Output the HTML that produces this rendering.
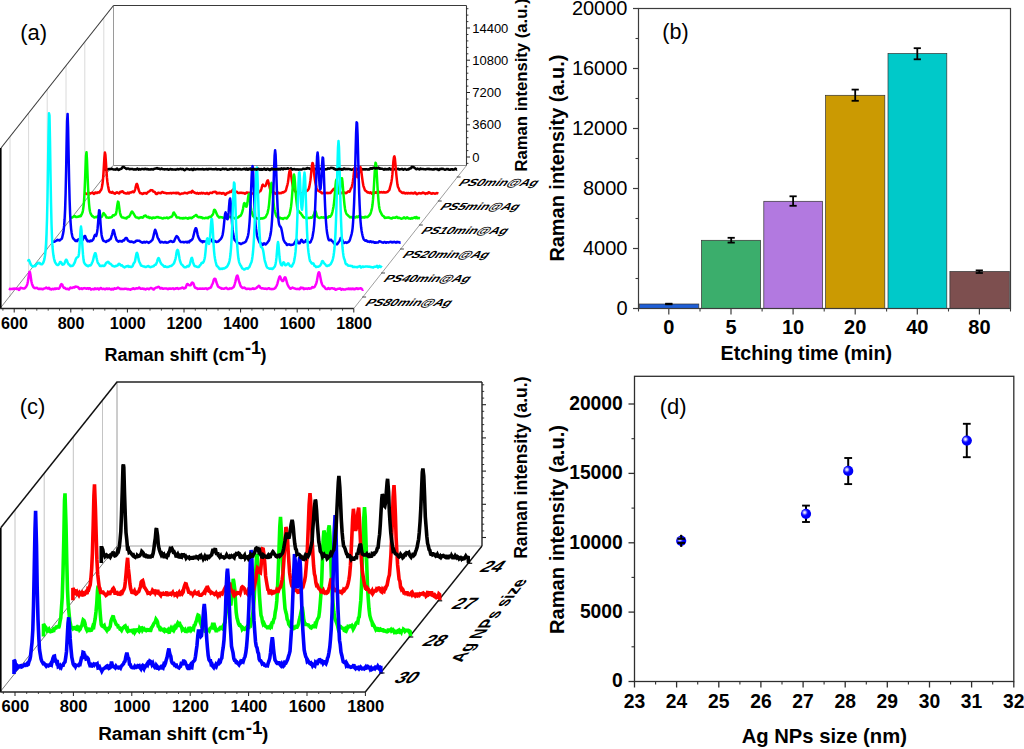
<!DOCTYPE html>
<html><head><meta charset="utf-8"><title>figure</title>
<style>
html,body{margin:0;padding:0;background:#fff;}
body{width:1024px;height:749px;overflow:hidden;font-family:"Liberation Sans",sans-serif;}
svg{display:block;}
svg text{font-family:"Liberation Sans",sans-serif;fill:#000;}
</style></head><body>
<svg width="1024" height="749" viewBox="0 0 1024 749">
<defs><radialGradient id="ball" cx="0.37" cy="0.37" r="0.62"><stop offset="0" stop-color="#ffffff"/><stop offset="0.2" stop-color="#b4b4ff"/><stop offset="0.42" stop-color="#2020ff"/><stop offset="0.6" stop-color="#0000ff"/><stop offset="1" stop-color="#0000f4"/></radialGradient></defs>
<rect width="1024" height="749" fill="#fff"/>
<g id="pa">
<line x1="10" y1="136.6" x2="10" y2="297.1" stroke="#dadada" stroke-width="1" />
<line x1="28.6" y1="113" x2="28.6" y2="273.4" stroke="#dadada" stroke-width="1" />
<line x1="47.2" y1="89.5" x2="47.2" y2="249.8" stroke="#dadada" stroke-width="1" />
<line x1="66" y1="65.7" x2="66" y2="225.9" stroke="#dadada" stroke-width="1" />
<line x1="84.8" y1="41.9" x2="84.8" y2="202" stroke="#dadada" stroke-width="1" />
<line x1="103.8" y1="17.8" x2="103.8" y2="177.8" stroke="#dadada" stroke-width="1" />
<line x1="113.5" y1="5.5" x2="113.5" y2="165.5" stroke="#9a9a9a" stroke-width="1" />
<line x1="113.5" y1="165.5" x2="466.5" y2="165.5" stroke="#8a8a8a" stroke-width="1" />
<line x1="0" y1="308.5" x2="113" y2="165.5" stroke="#6a6a6a" stroke-width="0.8" />
<line x1="353.8" y1="308.5" x2="466.5" y2="165.5" stroke="#858585" stroke-width="0.8" />
<line x1="113.5" y1="5.5" x2="466.5" y2="5.5" stroke="#3a3a3a" stroke-width="1.1" />
<line x1="1" y1="148" x2="113.5" y2="5.5" stroke="#3a3a3a" stroke-width="1.1" />
<line x1="466.5" y1="5.5" x2="466.5" y2="165.5" stroke="#3a3a3a" stroke-width="1.1" />
<line x1="466.5" y1="157" x2="470" y2="157" stroke="#222" stroke-width="1" />
<line x1="466.5" y1="124.8" x2="470" y2="124.8" stroke="#222" stroke-width="1" />
<line x1="466.5" y1="92.5" x2="470" y2="92.5" stroke="#222" stroke-width="1" />
<line x1="466.5" y1="60.2" x2="470" y2="60.2" stroke="#222" stroke-width="1" />
<line x1="466.5" y1="28" x2="470" y2="28" stroke="#222" stroke-width="1" />
<line x1="466.5" y1="163.4" x2="468.4" y2="163.4" stroke="#222" stroke-width="0.9" />
<line x1="466.5" y1="150.6" x2="468.4" y2="150.6" stroke="#222" stroke-width="0.9" />
<line x1="466.5" y1="144.1" x2="468.4" y2="144.1" stroke="#222" stroke-width="0.9" />
<line x1="466.5" y1="137.7" x2="468.4" y2="137.7" stroke="#222" stroke-width="0.9" />
<line x1="466.5" y1="131.2" x2="468.4" y2="131.2" stroke="#222" stroke-width="0.9" />
<line x1="466.5" y1="118.3" x2="468.4" y2="118.3" stroke="#222" stroke-width="0.9" />
<line x1="466.5" y1="111.9" x2="468.4" y2="111.9" stroke="#222" stroke-width="0.9" />
<line x1="466.5" y1="105.4" x2="468.4" y2="105.4" stroke="#222" stroke-width="0.9" />
<line x1="466.5" y1="99" x2="468.4" y2="99" stroke="#222" stroke-width="0.9" />
<line x1="466.5" y1="86.1" x2="468.4" y2="86.1" stroke="#222" stroke-width="0.9" />
<line x1="466.5" y1="79.6" x2="468.4" y2="79.6" stroke="#222" stroke-width="0.9" />
<line x1="466.5" y1="73.2" x2="468.4" y2="73.2" stroke="#222" stroke-width="0.9" />
<line x1="466.5" y1="66.7" x2="468.4" y2="66.7" stroke="#222" stroke-width="0.9" />
<line x1="466.5" y1="53.8" x2="468.4" y2="53.8" stroke="#222" stroke-width="0.9" />
<line x1="466.5" y1="47.4" x2="468.4" y2="47.4" stroke="#222" stroke-width="0.9" />
<line x1="466.5" y1="40.9" x2="468.4" y2="40.9" stroke="#222" stroke-width="0.9" />
<line x1="466.5" y1="34.5" x2="468.4" y2="34.5" stroke="#222" stroke-width="0.9" />
<line x1="466.5" y1="21.6" x2="468.4" y2="21.6" stroke="#222" stroke-width="0.9" />
<line x1="466.5" y1="15.1" x2="468.4" y2="15.1" stroke="#222" stroke-width="0.9" />
<line x1="466.5" y1="8.7" x2="468.4" y2="8.7" stroke="#222" stroke-width="0.9" />
<text x="472.2" y="161.7" font-size="13" font-weight="normal" text-anchor="start" >0</text>
<text x="472.2" y="129.4" font-size="13" font-weight="normal" text-anchor="start" >3600</text>
<text x="472.2" y="97.2" font-size="13" font-weight="normal" text-anchor="start" >7200</text>
<text x="472.2" y="65" font-size="13" font-weight="normal" text-anchor="start" >10800</text>
<text x="472.2" y="32.7" font-size="13" font-weight="normal" text-anchor="start" >14400</text>
<path d="M103 169.2L103.5 169.2L104 169.3L104.5 169.3L105 169.4L105.5 169.7L106 169.8L106.5 169.6L107 169.5L107.5 169.4L108 169.3L108.5 169.1L109 168.9L109.5 169.1L110 169.2L110.5 169.1L111 169L111.5 168.7L112 168.8L112.5 169.1L113 169.3L113.5 169.4L114 169.4L114.5 169.4L115 169.5L115.5 169.7L116 169.5L116.5 168.8L117 168.5L117.5 168.9L118 169.6L118.5 169.9L119 169.8L119.5 169.6L120 169.2L120.5 169L121 168.8L121.5 168.7L122 168.1L122.5 167.2L123 167L123.5 167L124 167L124.5 167.6L125 167.9L125.5 168.1L126 168.7L126.5 169L127 168.8L127.5 168.4L128 168.4L128.5 168.6L129 168.8L129.5 169.3L130 169.2L130.5 168.9L131 169L131.5 169.1L132 169L132.5 169L133 169.2L133.5 169.6L134 169.5L134.5 169.3L135 169.3L135.5 169.6L136 169.5L136.5 169L137 168.7L137.5 168.6L138 169.2L138.5 169.7L139 169.3L139.5 169.1L140 169.4L140.5 169.6L141 169.3L141.5 169L142 169L142.5 169.1L143 169L143.5 169.2L144 169.4L144.5 169.2L145 168.8L145.5 168.7L146 169.1L146.5 169.3L147 169L147.5 168.9L148 169.4L148.5 169.4L149 169.2L149.5 169.5L150 169.5L150.5 169.3L151 169.4L151.5 169.3L152 169.1L152.5 169.3L153 169.5L153.5 169.4L154 168.9L154.5 168.7L155 168.7L155.5 168.6L156 168.6L156.5 168.4L157 168.1L157.5 168.5L158 168.8L158.5 168.6L159 168.6L159.5 168.9L160 169.2L160.5 169.3L161 169L161.5 168.6L162 168.7L162.5 169.1L163 169.2L163.5 169.2L164 169.3L164.5 169.4L165 169.3L165.5 169.3L166 169.2L166.5 169.3L167 169.3L167.5 169.1L168 169.3L168.5 169.8L169 169.6L169.5 169.3L170 169.1L170.5 168.9L171 169.1L171.5 169.4L172 169.4L172.5 169.3L173 169.6L173.5 169.5L174 169.4L174.5 169.4L175 169.5L175.5 169.7L176 169.6L176.5 169.5L177 169.2L177.5 168.9L178 169.1L178.5 169.4L179 169.2L179.5 169.2L180 169L180.5 168.7L181 168.9L181.5 169.2L182 169.2L182.5 169.1L183 169L183.5 169.3L184 170L184.5 170.3L185 169.9L185.5 169.6L186 169.2L186.5 168.8L187 168.8L187.5 169.1L188 169.2L188.5 169.2L189 169.4L189.5 169.7L190 169.5L190.5 169.4L191 169.3L191.5 169L192 169.2L192.5 169.9L193 169.9L193.5 169.2L194 168.8L194.5 169.1L195 169.5L195.5 169.5L196 169.2L196.5 169.2L197 169.2L197.5 168.9L198 168.9L198.5 169.3L199 169.3L199.5 169.2L200 169.2L200.5 169.2L201 169.3L201.5 169.3L202 169.1L202.5 168.9L203 169.1L203.5 169.4L204 169.5L204.5 169.4L205 169.2L205.5 169.2L206 169.2L206.5 169L207 169.1L207.5 169.4L208 169.4L208.5 169L209 168.9L209.5 169L210 169L210.5 169L211 168.9L211.5 169.1L212 169.2L212.5 169.2L213 169.3L213.5 169.2L214 169.2L214.5 169.3L215 169.2L215.5 168.9L216 168.7L216.5 169.1L217 169.5L217.5 169.4L218 169.2L218.5 169.2L219 169.3L219.5 169.3L220 169.6L220.5 169.7L221 169.4L221.5 169.4L222 169.2L222.5 168.8L223 168.7L223.5 169L224 169.1L224.5 169.2L225 169.1L225.5 168.9L226 168.8L226.5 169L227 169.4L227.5 169.8L228 169.7L228.5 169.5L229 169.6L229.5 169.4L230 168.9L230.5 169L231 169.1L231.5 169.1L232 168.9L232.5 169.1L233 169.5L233.5 169.7L234 169.5L234.5 169.1L235 168.7L235.5 168.9L236 169L236.5 168.8L237 168.9L237.5 169.5L238 169.5L238.5 168.9L239 169.1L239.5 169.2L240 169.1L240.5 169.4L241 169.6L241.5 169.5L242 169.3L242.5 169.3L243 169.2L243.5 169L244 168.9L244.5 168.7L245 169.2L245.5 169.5L246 169.1L246.5 168.8L247 169L247.5 169.4L248 169.5L248.5 169.2L249 169.1L249.5 169L250 168.9L250.5 168.8L251 169.1L251.5 169.6L252 169.8L252.5 169.3L253 168.8L253.5 169L254 169.3L254.5 169.2L255 169.1L255.5 169.3L256 169.6L256.5 169.7L257 169.3L257.5 169L258 169.2L258.5 169.1L259 169L259.5 169.3L260 169.5L260.5 169.3L261 169.1L261.5 169.4L262 169.7L262.5 169.5L263 169.2L263.5 169.1L264 168.9L264.5 168.8L265 169.1L265.5 169.5L266 169.7L266.5 169.3L267 169L267.5 169L268 169.1L268.5 169.2L269 169.4L269.5 169.8L270 170L270.5 169.7L271 169.2L271.5 168.9L272 168.8L272.5 168.9L273 169.3L273.5 169.3L274 169.3L274.5 169.3L275 169.1L275.5 169.3L276 169.4L276.5 169.2L277 169.2L277.5 169.2L278 169L278.5 169.2L279 169.3L279.5 168.9L280 168.9L280.5 169.2L281 168.8L281.5 168.6L282 168.8L282.5 169L283 169.2L283.5 168.9L284 168.5L284.5 168.7L285 168.9L285.5 168.8L286 168.7L286.5 168.8L287 168.7L287.5 168.3L288 168.3L288.5 168.6L289 168.8L289.5 169.1L290 169.1L290.5 168.6L291 168.3L291.5 168.9L292 169.7L292.5 169.6L293 169.2L293.5 169.2L294 169.1L294.5 168.9L295 169.4L295.5 169.6L296 169.5L296.5 169.4L297 169.3L297.5 169.4L298 169.5L298.5 169.7L299 169.6L299.5 169.4L300 169.5L300.5 169.4L301 169.5L301.5 169.6L302 169.4L302.5 169.2L303 168.8L303.5 168.7L304 168.8L304.5 169L305 168.9L305.5 168.8L306 168.8L306.5 168.7L307 168.2L307.5 168L308 168.5L308.5 168.5L309 168.2L309.5 168.6L310 168.9L310.5 169.2L311 169.4L311.5 169.3L312 169.4L312.5 169.5L313 169.1L313.5 169.3L314 169.8L314.5 169.2L315 168.8L315.5 169.2L316 169.1L316.5 169.1L317 169.4L317.5 169L318 168.4L318.5 168.8L319 169.2L319.5 169.2L320 169L320.5 168.7L321 168.8L321.5 169.2L322 169.4L322.5 169.5L323 169.4L323.5 169.3L324 169.2L324.5 169.3L325 169.4L325.5 169.3L326 169.2L326.5 169.3L327 169.1L327.5 168.6L328 168.3L328.5 168.5L329 168.8L329.5 168.6L330 168.4L330.5 168.1L331 167.8L331.5 167.9L332 168.1L332.5 168L333 167.9L333.5 168.3L334 168.8L334.5 169L335 169.1L335.5 169.3L336 169.4L336.5 169.4L337 169.6L337.5 169.6L338 169.4L338.5 169.1L339 168.8L339.5 168.8L340 169.3L340.5 169.2L341 169.1L341.5 169.4L342 169.4L342.5 169.3L343 169.2L343.5 168.9L344 168.5L344.5 168.6L345 169.1L345.5 169.2L346 169L346.5 169.1L347 169.2L347.5 169.1L348 169.1L348.5 169L349 169.1L349.5 169.2L350 169.3L350.5 169.3L351 169.6L351.5 169.8L352 169.5L352.5 169.4L353 169.5L353.5 169.1L354 168.8L354.5 169L355 169.1L355.5 169.1L356 169L356.5 169.4L357 169.8L357.5 169.4L358 169L358.5 169.2L359 169.4L359.5 169.4L360 169.3L360.5 169.1L361 169.2L361.5 169.2L362 169.1L362.5 169.4L363 169.5L363.5 169.3L364 169.2L364.5 169.4L365 169.6L365.5 169.4L366 169.2L366.5 169.2L367 169.3L367.5 169.5L368 169.5L368.5 169.3L369 169.4L369.5 169.4L370 168.9L370.5 168.4L371 168.3L371.5 168.4L372 168.5L372.5 168.3L373 168L373.5 167.9L374 167.9L374.5 168L375 168.3L375.5 168.5L376 168.3L376.5 168.1L377 168.3L377.5 168.3L378 168L378.5 167.8L379 168.1L379.5 168.6L380 168.7L380.5 168.7L381 168.8L381.5 168.7L382 168.7L382.5 168.9L383 169.2L383.5 169.4L384 169.7L384.5 169.4L385 168.9L385.5 169.2L386 169.6L386.5 169.4L387 169.1L387.5 169.2L388 169.5L388.5 169.3L389 168.6L389.5 168.3L390 169L390.5 169.6L391 169.6L391.5 169.5L392 169.2L392.5 168.8L393 168.9L393.5 169.5L394 169.4L394.5 169.2L395 169.3L395.5 169.3L396 169.1L396.5 168.8L397 169L397.5 169.1L398 168.7L398.5 168.9L399 169.5L399.5 169.6L400 169.2L400.5 169.2L401 169.3L401.5 169L402 168.8L402.5 169.1L403 169.6L403.5 169.7L404 169.3L404.5 169L405 169L405.5 169.2L406 169.5L406.5 169.8L407 169.6L407.5 169.3L408 169.5L408.5 169.5L409 169L409.5 168.5L410 168.4L410.5 168.6L411 168.3L411.5 167.2L412 166.7L412.5 167.1L413 167.2L413.5 167.1L414 167.4L414.5 167.9L415 168.2L415.5 168.7L416 169.2L416.5 169.2L417 168.8L417.5 168.6L418 168.8L418.5 169.1L419 169.3L419.5 169.4L420 169L420.5 168.6L421 168.9L421.5 169.1L422 169L422.5 169.1L423 169.1L423.5 169.1L424 169.3L424.5 169.2L425 169.2L425.5 169.4L426 169.3L426.5 169.1L427 169L427.5 168.9L428 168.8L428.5 168.9L429 169.2L429.5 169.1L430 169.1L430.5 169.3L431 169.2L431.5 169.2L432 169.4L432.5 169.5L433 169.3L433.5 169.4L434 169.4L434.5 169.1L435 168.9L435.5 168.9L436 169L436.5 169.2L437 169.2L437.5 169.1L438 169.5L438.5 170L439 169.9L439.5 169.2L440 169L440.5 169.2L441 168.9L441.5 168.7L442 169.1L442.5 169L443 168.7L443.5 169L444 169.3L444.5 169.6L445 169.8L445.5 169.6L446 169.3L446.5 169.1L447 169.2L447.5 169.2L448 169L448.5 169.4L449 169.7L449.5 169.8L450 169.8L450.5 169.7L451 169.3L451.5 169.2L452 169.2L452.5 169.3L453 169.7L453.5 169.6L454 169.6L454.5 169.3L455 168.8L455.5 168.5L456 169.1L456.5 169.5L457 169.3" fill="none" stroke="#000000" stroke-width="2.5" stroke-linejoin="round" stroke-linecap="butt"/>
<path d="M84.4 192.8L84.9 193L85.4 193.2L85.9 193.6L86.4 193.9L86.9 193.8L87.4 193.7L87.9 193.5L88.4 193.2L88.9 193L89.4 193.1L89.9 193.4L90.4 193.5L90.9 193.2L91.4 193.1L91.9 192.9L92.4 192.7L92.9 192.8L93.4 193.4L93.9 194L94.4 193.7L94.9 192.8L95.4 192.4L95.9 192.5L96.4 193.1L96.9 193.1L97.4 192.5L97.9 192.2L98.4 192.4L98.9 192.5L99.4 192.5L99.9 191.6L100.4 190.7L100.9 190.3L101.4 189.2L101.9 187.2L102.4 184.6L102.9 180.5L103.4 174.1L103.9 165.7L104.4 157.3L104.9 152.6L105.4 154.8L105.9 161.9L106.4 170.1L106.9 177.2L107.4 182L107.9 185.3L108.4 188.1L108.9 190.4L109.4 191.8L109.9 192.2L110.4 192.1L110.9 192.3L111.4 192.7L111.9 192.4L112.4 191.9L112.9 192.5L113.4 193.1L113.9 193L114.4 193.5L114.9 193.8L115.4 193.3L115.9 193L116.4 192.5L116.9 192.2L117.4 192.7L117.9 192.9L118.4 192.9L118.9 193.5L119.4 193.3L119.9 192.2L120.4 191.8L120.9 192.1L121.4 192L121.9 191.4L122.4 191.2L122.9 191.5L123.4 192.3L123.9 192.9L124.4 193.1L124.9 193.1L125.4 193.3L125.9 193.4L126.4 193.5L126.9 193.6L127.4 192.9L127.9 192.6L128.4 193.3L128.9 193.5L129.4 193L129.9 192.6L130.4 192.5L130.9 192.2L131.4 192.4L131.9 192.2L132.4 191.6L132.9 191.7L133.4 192.2L133.9 192.2L134.4 191.4L134.9 190.1L135.4 188.3L135.9 186L136.4 184.3L136.9 183.9L137.4 184.8L137.9 186.9L138.4 189L138.9 190.5L139.4 191.7L139.9 192.8L140.4 193.3L140.9 193.3L141.4 193.2L141.9 193.5L142.4 194.1L142.9 193.9L143.4 193.3L143.9 193L144.4 193.2L144.9 193.3L145.4 193.1L145.9 193.2L146.4 193.7L146.9 193.4L147.4 192.6L147.9 192.2L148.4 191.8L148.9 191.4L149.4 191.4L149.9 190.9L150.4 190.3L150.9 190.1L151.4 190.3L151.9 190.2L152.4 190.2L152.9 191L153.4 191.6L153.9 191.7L154.4 191.8L154.9 192.1L155.4 193L155.9 193.8L156.4 194L156.9 194L157.4 193.6L157.9 192.9L158.4 192.7L158.9 192.9L159.4 192.9L159.9 193L160.4 193.3L160.9 193.2L161.4 192.6L161.9 192.2L162.4 191.9L162.9 192.1L163.4 192.7L163.9 192.7L164.4 192.7L164.9 192.9L165.4 193L165.9 193.1L166.4 193.3L166.9 193.4L167.4 193.2L167.9 193.2L168.4 193.3L168.9 193.3L169.4 193.3L169.9 193.2L170.4 193L170.9 193.2L171.4 193.4L171.9 193L172.4 192.9L172.9 192.9L173.4 193.1L173.9 193.1L174.4 192.9L174.9 193.1L175.4 193.2L175.9 192.9L176.4 192.8L176.9 193.4L177.4 193.2L177.9 192.8L178.4 192.9L178.9 193.2L179.4 194L179.9 194.2L180.4 193.9L180.9 193.9L181.4 193.7L181.9 193.5L182.4 193.6L182.9 193.5L183.4 193.3L183.9 193.1L184.4 192.8L184.9 192.8L185.4 192.9L185.9 193.1L186.4 193.2L186.9 193.2L187.4 193.4L187.9 192.9L188.4 192.5L188.9 192.6L189.4 192.6L189.9 192.2L190.4 191.9L190.9 192.3L191.4 192.6L191.9 191.5L192.4 190.7L192.9 191.4L193.4 192.2L193.9 192.2L194.4 192.4L194.9 193L195.4 193L195.9 193L196.4 193.4L196.9 193.3L197.4 192.9L197.9 193.3L198.4 193.7L198.9 193.3L199.4 193.1L199.9 193.3L200.4 193.5L200.9 193.2L201.4 192.8L201.9 193.2L202.4 193.4L202.9 193L203.4 193L203.9 193.2L204.4 193.4L204.9 193.4L205.4 193.6L205.9 193.7L206.4 193.1L206.9 192.9L207.4 193L207.9 193.6L208.4 194.1L208.9 194L209.4 193.3L209.9 192.8L210.4 192.8L210.9 192.7L211.4 192.9L211.9 193.1L212.4 192.8L212.9 192.2L213.4 192L213.9 192.1L214.4 191.9L214.9 191.8L215.4 191.7L215.9 192.1L216.4 193L216.9 193.6L217.4 193.4L217.9 192.7L218.4 193L218.9 193.3L219.4 192.8L219.9 192.9L220.4 193.2L220.9 193L221.4 193.3L221.9 193.8L222.4 193.5L222.9 193L223.4 193L223.9 193.3L224.4 193.7L224.9 194.4L225.4 194.8L225.9 194.3L226.4 193.3L226.9 193.1L227.4 193.3L227.9 192.8L228.4 192.4L228.9 192.6L229.4 192.4L229.9 191.6L230.4 191.8L230.9 191.9L231.4 191.2L231.9 190.9L232.4 190.4L232.9 189.6L233.4 189.4L233.9 189.9L234.4 190.6L234.9 191.4L235.4 191.8L235.9 191.9L236.4 191.8L236.9 191.8L237.4 192.4L237.9 192.9L238.4 193.1L238.9 193L239.4 192.9L239.9 192.7L240.4 192.7L240.9 192.9L241.4 192.8L241.9 192.8L242.4 192.9L242.9 192.9L243.4 193L243.9 193.1L244.4 193.4L244.9 193.7L245.4 193.6L245.9 193.1L246.4 192.6L246.9 192.4L247.4 192.7L247.9 192.8L248.4 192.7L248.9 192.9L249.4 193.2L249.9 192.8L250.4 192.7L250.9 193.2L251.4 193.7L251.9 193.4L252.4 193.4L252.9 193.5L253.4 193.2L253.9 192.9L254.4 192.9L254.9 193.2L255.4 193.2L255.9 192.9L256.4 192.8L256.9 193L257.4 192.6L257.9 192.1L258.4 192.4L258.9 192.4L259.4 191.5L259.9 191.2L260.4 191.1L260.9 190.2L261.4 188.9L261.9 187L262.4 185.2L262.9 184.7L263.4 185.4L263.9 185.9L264.4 185.9L264.9 186.2L265.4 186L265.9 184.9L266.4 183.5L266.9 182L267.4 180.6L267.9 180.4L268.4 182.1L268.9 184.1L269.4 186.2L269.9 188.4L270.4 190.1L270.9 191.2L271.4 191.8L271.9 191.8L272.4 191.8L272.9 191.9L273.4 191.9L273.9 192.4L274.4 193.2L274.9 193.6L275.4 193.7L275.9 193.5L276.4 193.1L276.9 192.7L277.4 192.4L277.9 192.4L278.4 192.8L278.9 193.3L279.4 193.3L279.9 192.9L280.4 192.9L280.9 193.2L281.4 193.1L281.9 192.6L282.4 192.3L282.9 192.3L283.4 192.4L283.9 192.1L284.4 191.6L284.9 191.4L285.4 191.3L285.9 190.3L286.4 188.5L286.9 186.6L287.4 184.8L287.9 182.7L288.4 179.1L288.9 174.6L289.4 171.6L289.9 170.4L290.4 171L290.9 173.6L291.4 177.4L291.9 180.8L292.4 183.7L292.9 186.5L293.4 188.4L293.9 189.4L294.4 190.4L294.9 191.1L295.4 191.6L295.9 192.1L296.4 192.4L296.9 192.3L297.4 192.2L297.9 192.6L298.4 192.7L298.9 192.6L299.4 192.8L299.9 193L300.4 193.2L300.9 193.4L301.4 193.3L301.9 193.2L302.4 193.4L302.9 193.6L303.4 193.1L303.9 192.8L304.4 193L304.9 192.9L305.4 192.5L305.9 191.8L306.4 190.9L306.9 190.7L307.4 190.7L307.9 190.2L308.4 189.4L308.9 188.4L309.4 186.4L309.9 183.6L310.4 180.4L310.9 176L311.4 170.8L311.9 166L312.4 163.1L312.9 163.4L313.4 166.4L313.9 171L314.4 175.8L314.9 179.8L315.4 182.7L315.9 185L316.4 187.6L316.9 189.5L317.4 190L317.9 190.3L318.4 190.9L318.9 191L319.4 191L319.9 191.6L320.4 191.9L320.9 192L321.4 192.8L321.9 193.2L322.4 193.1L322.9 193.2L323.4 193L323.9 192.6L324.4 192.8L324.9 193.2L325.4 193.3L325.9 193.1L326.4 193.1L326.9 192.8L327.4 192.9L327.9 193.2L328.4 193.1L328.9 193L329.4 192.9L329.9 192.8L330.4 192.9L330.9 192.5L331.4 191.7L331.9 191.1L332.4 190.5L332.9 190L333.4 189.2L333.9 188.8L334.4 189.1L334.9 189.7L335.4 190.7L335.9 192.1L336.4 193L336.9 193.2L337.4 193.2L337.9 193L338.4 192.4L338.9 191.9L339.4 191.8L339.9 192.7L340.4 193.5L340.9 193.3L341.4 192.8L341.9 192.9L342.4 192.6L342.9 192.3L343.4 192.5L343.9 192.6L344.4 192.6L344.9 192.7L345.4 193.1L345.9 193.2L346.4 193L346.9 192.6L347.4 192.1L347.9 191.6L348.4 191.3L348.9 191.5L349.4 191.8L349.9 191L350.4 189.6L350.9 188.5L351.4 187.7L351.9 186.3L352.4 184L352.9 181.2L353.4 177.5L353.9 173L354.4 169.4L354.9 167.4L355.4 167.4L355.9 169.7L356.4 173.1L356.9 176L357.4 177.3L357.9 177.3L358.4 175.7L358.9 173L359.4 170.1L359.9 167.8L360.4 167.1L360.9 168.5L361.4 171.8L361.9 175.8L362.4 179.6L362.9 183.1L363.4 185.8L363.9 187.3L364.4 188.6L364.9 190.1L365.4 190.7L365.9 190.9L366.4 191.3L366.9 191.9L367.4 192.4L367.9 192.3L368.4 192.2L368.9 192.6L369.4 192.9L369.9 192.8L370.4 192.3L370.9 192.4L371.4 193.1L371.9 193.7L372.4 193.8L372.9 192.9L373.4 192.3L373.9 192.7L374.4 193.1L374.9 192.6L375.4 192.2L375.9 192.8L376.4 192.7L376.9 192L377.4 191.7L377.9 191.4L378.4 191.4L378.9 191.8L379.4 192.4L379.9 192.5L380.4 192.3L380.9 192.2L381.4 192.1L381.9 192.3L382.4 192.5L382.9 192.2L383.4 192.1L383.9 192.5L384.4 192.4L384.9 192.3L385.4 192.4L385.9 192.5L386.4 192.2L386.9 192.1L387.4 192.1L387.9 191.5L388.4 190.9L388.9 190.7L389.4 189.9L389.9 187.9L390.4 186L390.9 184.2L391.4 181.8L391.9 178.9L392.4 174.4L392.9 167.5L393.4 161.2L393.9 157.4L394.4 156.4L394.9 158.6L395.4 163.9L395.9 170.2L396.4 175.4L396.9 180.1L397.4 184.3L397.9 186.8L398.4 187.8L398.9 188.8L399.4 190.2L399.9 191.2L400.4 191.4L400.9 191.6L401.4 192.1L401.9 192.7L402.4 193L402.9 193L403.4 192.6L403.9 192.6L404.4 192.9L404.9 193.3L405.4 193.5L405.9 193.2L406.4 192.9L406.9 193.1L407.4 193.4L407.9 193.1L408.4 193L408.9 193.2L409.4 193.2L409.9 193.4L410.4 193.1L410.9 193.1L411.4 193.2L411.9 193L412.4 193.2L412.9 193.5L413.4 193.6L413.9 193.4L414.4 192.8L414.9 192.4L415.4 192.7L415.9 193.2L416.4 193.9L416.9 194.2L417.4 193.9L417.9 193.6L418.4 193.3L418.9 193L419.4 193.2L419.9 193.3L420.4 193.3L420.9 193.6L421.4 193.4L421.9 193.1L422.4 193L422.9 192.6L423.4 192.7L423.9 193.1L424.4 193L424.9 193.4L425.4 193.9L425.9 193.6L426.4 193.2L426.9 193.2L427.4 193.5L427.9 193.3L428.4 192.4L428.9 192.2L429.4 192.7L429.9 193L430.4 193.1L430.9 193.5L431.4 193.7L431.9 193.7L432.4 193.3L432.9 193.1L433.4 193.3L433.9 193.3L434.4 193.5L434.9 193.8L435.4 193.6L435.9 193.5L436.4 193.2L436.9 193.1L437.4 193.2L437.9 193.3L438.4 193.5" fill="none" stroke="#ff0000" stroke-width="2.5" stroke-linejoin="round" stroke-linecap="butt"/>
<path d="M71 218L71.5 217.7L72 217.5L72.5 217.3L73 216.9L73.5 216.7L74 216.4L74.5 216.1L75 216.2L75.5 216.7L76 217.1L76.5 217.1L77 216.9L77.5 216.8L78 216.7L78.5 216.7L79 216.5L79.5 216L80 216L80.5 216.3L81 215.8L81.5 214.6L82 213.6L82.5 212.5L83 210.2L83.5 206.6L84 201.6L84.5 193.1L85 181.4L85.5 168.1L86 156L86.5 152.2L87 160.2L87.5 173.7L88 186.4L88.5 196.3L89 203.5L89.5 208.6L90 211.5L90.5 213.2L91 214.3L91.5 215L92 215.9L92.5 216.3L93 216.2L93.5 216.9L94 217.5L94.5 217.5L95 217.3L95.5 217.1L96 217L96.5 217.2L97 217.1L97.5 216.7L98 215.9L98.5 215.9L99 216.6L99.5 216.9L100 217.1L100.5 217.3L101 217.2L101.5 217L102 216.6L102.5 215.4L103 213.9L103.5 213.1L104 213.5L104.5 214.3L105 214.7L105.5 215.4L106 216.7L106.5 217.5L107 217.5L107.5 217.5L108 217.7L108.5 217.7L109 217.7L109.5 217.6L110 217.6L110.5 217.5L111 217.2L111.5 217.3L112 216.9L112.5 215.9L113 215.2L113.5 215.4L114 215.5L114.5 215L115 214.6L115.5 214.6L116 213.7L116.5 211L117 207.4L117.5 203.9L118 201.6L118.5 202.3L119 205.6L119.5 209.6L120 212.7L120.5 214.7L121 216L121.5 216.8L122 217.3L122.5 217.5L123 217.5L123.5 217.7L124 217.9L124.5 218L125 218.2L125.5 217.9L126 218L126.5 218.4L127 217.8L127.5 217L128 216.9L128.5 217.1L129 216.7L129.5 216L130 215.1L130.5 214.1L131 213L131.5 211.9L132 211.5L132.5 211.9L133 212.7L133.5 213.4L134 214.3L134.5 215.2L135 216L135.5 216.8L136 217.3L136.5 217.4L137 217.4L137.5 217.4L138 217.8L138.5 218.2L139 218.3L139.5 217.9L140 217.6L140.5 217.6L141 217.3L141.5 217.2L142 217.5L142.5 217.7L143 217.6L143.5 216.8L144 216.1L144.5 216L145 215.7L145.5 215.5L146 216L146.5 216.5L147 216.9L147.5 217.3L148 217.2L148.5 216.9L149 217.5L149.5 218L150 217.8L150.5 217.6L151 217.7L151.5 218.1L152 218.5L152.5 218.2L153 217.5L153.5 217.4L154 217.8L154.5 217.9L155 217.7L155.5 217.7L156 217.3L156.5 217.1L157 217.3L157.5 217.1L158 217.1L158.5 217.5L159 217.4L159.5 217.6L160 217.8L160.5 217.7L161 217.8L161.5 218.1L162 218.3L162.5 218.4L163 218.4L163.5 218.1L164 217.8L164.5 217.9L165 218L165.5 218L166 217.9L166.5 217.7L167 217.5L167.5 217.9L168 218.4L168.5 218.2L169 217.8L169.5 217.5L170 217.3L170.5 217L171 216.8L171.5 216.9L172 216.4L172.5 215.6L173 214.3L173.5 212.7L174 212.6L174.5 213.8L175 214.5L175.5 215L176 215.9L176.5 217.1L177 217.6L177.5 217.5L178 217.5L178.5 217.6L179 217.5L179.5 217.8L180 218.2L180.5 218.1L181 218.3L181.5 218.2L182 218.1L182.5 218.5L183 218.4L183.5 218L184 217.9L184.5 218.3L185 218.1L185.5 217.8L186 217.9L186.5 218L187 218.3L187.5 218.6L188 218.7L188.5 218.5L189 217.8L189.5 217.7L190 218L190.5 217.7L191 217.9L191.5 218.3L192 217.9L192.5 217.3L193 217.2L193.5 217L194 216.4L194.5 215.9L195 215.8L195.5 215.5L196 214.9L196.5 215.1L197 216L197.5 216.6L198 216.8L198.5 217.2L199 217.3L199.5 217L200 217.1L200.5 217.5L201 217.4L201.5 217.2L202 217.7L202.5 218.3L203 217.9L203.5 218L204 218.3L204.5 218.3L205 218.1L205.5 217.8L206 217.8L206.5 218.1L207 217.7L207.5 217.8L208 218.2L208.5 217.6L209 217L209.5 216.9L210 216.7L210.5 216.9L211 216.9L211.5 216.2L212 215.4L212.5 214.9L213 214.2L213.5 212.3L214 210.2L214.5 209.7L215 210L215.5 211L216 212.4L216.5 213.4L217 214.5L217.5 215.7L218 216.3L218.5 216.7L219 217.4L219.5 217.5L220 217.1L220.5 217.1L221 217.3L221.5 217.2L222 217.2L222.5 217.7L223 217.9L223.5 217.8L224 218L224.5 218.1L225 217.9L225.5 217.5L226 217.6L226.5 217.6L227 216.9L227.5 216.3L228 216.6L228.5 217.1L229 216.8L229.5 216.7L230 217.2L230.5 217.3L231 217L231.5 217L232 217.3L232.5 217.4L233 217.5L233.5 217.6L234 217.8L234.5 218.1L235 218.4L235.5 218.3L236 218.1L236.5 218L237 217.8L237.5 217.5L238 217.4L238.5 217.3L239 216.7L239.5 216L240 216L240.5 215.8L241 215L241.5 214L242 212.8L242.5 211.2L243 208.9L243.5 205.9L244 203.5L244.5 203.1L245 204L245.5 205.3L246 206.5L246.5 206.7L247 205.2L247.5 202.3L248 198.5L248.5 195.1L249 193.9L249.5 195.8L250 200.1L250.5 204.9L251 208.8L251.5 211.1L252 212.6L252.5 214.3L253 216L253.5 216.5L254 216.8L254.5 217.5L255 217.9L255.5 218L256 218L256.5 218.1L257 218.3L257.5 218.5L258 218.5L258.5 219L259 219.3L259.5 218.6L260 218.2L260.5 218.7L261 218.6L261.5 218.3L262 218.6L262.5 218.6L263 218.2L263.5 218L264 218.2L264.5 217.7L265 217.4L265.5 217.3L266 216.3L266.5 215.2L267 214.4L267.5 213.1L268 210.9L268.5 208.5L269 204.8L269.5 199.4L270 193.7L270.5 188.7L271 184.5L271.5 182.9L272 185.2L272.5 190.6L273 196.7L273.5 202.4L274 207.1L274.5 210L275 211.8L275.5 213.4L276 215.1L276.5 216.4L277 216.8L277.5 217.4L278 217.7L278.5 218L279 218.2L279.5 217.8L280 217.6L280.5 218.1L281 218.4L281.5 218.3L282 218.3L282.5 218.7L283 219L283.5 218.6L284 218.2L284.5 218L285 218L285.5 218L286 218.1L286.5 218.5L287 218.3L287.5 217.6L288 216.8L288.5 216.1L289 215.5L289.5 214.1L290 212.1L290.5 209.9L291 206.9L291.5 202.3L292 196.7L292.5 190.2L293 182.9L293.5 176.8L294 174.5L294.5 176.8L295 182.9L295.5 190.3L296 196.3L296.5 201.3L297 205.7L297.5 208.8L298 210.3L298.5 210.9L299 211.4L299.5 212.1L300 212.9L300.5 213.1L301 213.5L301.5 214.4L302 215.1L302.5 215.8L303 216.6L303.5 217.3L304 217.5L304.5 217.4L305 217.5L305.5 217.9L306 218.3L306.5 218.3L307 218.2L307.5 218.2L308 217.9L308.5 217.8L309 218L309.5 218.1L310 217.9L310.5 217.3L311 217.5L311.5 217.8L312 217.5L312.5 217.2L313 216.4L313.5 215.3L314 214.2L314.5 212.6L315 211.2L315.5 211.2L316 212.5L316.5 214.4L317 216L317.5 216.9L318 217.3L318.5 217.6L319 217.8L319.5 218L320 217.8L320.5 217.5L321 217.4L321.5 217.3L322 217.4L322.5 217.5L323 217.3L323.5 217.6L324 217.7L324.5 217.4L325 217.4L325.5 217.4L326 217.5L326.5 217.5L327 217.5L327.5 217.7L328 217.5L328.5 216.7L329 216.3L329.5 216.6L330 216.8L330.5 216.3L331 215.6L331.5 214.8L332 213.5L332.5 211.6L333 209.3L333.5 206.7L334 203.1L334.5 198L335 191.6L335.5 185.5L336 181L336.5 179.5L337 181.3L337.5 185.2L338 189.3L338.5 192.4L339 193.4L339.5 192.6L340 190L340.5 185.8L341 181.3L341.5 178.2L342 178.2L342.5 182L343 188.1L343.5 194.3L344 199.9L344.5 204.8L345 208.7L345.5 211.2L346 212.6L346.5 213.9L347 214.7L347.5 214.9L348 215.4L348.5 216L349 216.3L349.5 216.9L350 217.4L350.5 217.2L351 217.1L351.5 217.1L352 217.4L352.5 217.9L353 217.8L353.5 217.2L354 217L354.5 217.4L355 217.6L355.5 217.5L356 217.1L356.5 216.4L357 216.6L357.5 217.3L358 217.2L358.5 216.4L359 216L359.5 215.7L360 215.9L360.5 216.6L361 217.4L361.5 217.7L362 217.6L362.5 217.4L363 217.2L363.5 217.2L364 217.7L364.5 217.6L365 216.8L365.5 216.7L366 217.2L366.5 217.1L367 217L367.5 217.2L368 216.6L368.5 216.1L369 215.8L369.5 215L370 214.5L370.5 213.6L371 212L371.5 210.2L372 208L372.5 204.8L373 199.7L373.5 193.1L374 185L374.5 175.7L375 167.4L375.5 162.8L376 163.5L376.5 169.1L377 177.7L377.5 186.7L378 194.5L378.5 200.8L379 205.7L379.5 208.8L380 210.8L380.5 212.1L381 212.8L381.5 213.9L382 214.9L382.5 215.7L383 215.8L383.5 216L384 216.8L384.5 217.6L385 218L385.5 217.7L386 217.4L386.5 217.8L387 217.8L387.5 217.4L388 217.5L388.5 217.7L389 217.6L389.5 217.7L390 218.2L390.5 218.2L391 218.3L391.5 218.6L392 218.5L392.5 217.9L393 217.6L393.5 217.7L394 217.8L394.5 217.8L395 217.6L395.5 217.7L396 217.3L396.5 216.8L397 217L397.5 217.6L398 218L398.5 217.9L399 217.7L399.5 217.9L400 218.2L400.5 218.4L401 218.6L401.5 218.8L402 218.6L402.5 218.2L403 218.2L403.5 217.8L404 217.2L404.5 217.5L405 218.1L405.5 218.4L406 218.3L406.5 217.9L407 217.3L407.5 217.4L408 218.2L408.5 218.4L409 218.3L409.5 218.6L410 218.6L410.5 218.7L411 218.3L411.5 218L412 218.4L412.5 218.4L413 218L413.5 217.8L414 217.6L414.5 217.3L415 217.9L415.5 218.1L416 217.2L416.5 217L417 217.8L417.5 218.3L418 218.2L418.5 217.9L419 217.9L419.5 218.2L420 218.3" fill="none" stroke="#00ff00" stroke-width="2.5" stroke-linejoin="round" stroke-linecap="butt"/>
<path d="M53.1 241.7L53.6 241.8L54.1 241.8L54.6 241.6L55.1 241.3L55.6 241.1L56.1 240.7L56.6 240.5L57.1 240.1L57.6 239.7L58.1 240.2L58.6 240.3L59.1 240.3L59.6 240.4L60.1 240L60.6 239.5L61.1 239.2L61.6 238.9L62.1 237.9L62.6 235.8L63.1 233.6L63.6 230.7L64.1 225.9L64.6 219.2L65.1 209.2L65.6 193.7L66.1 171.3L66.6 144.3L67.1 121L67.6 113.9L68.1 128.1L68.6 154.2L69.1 179.9L69.6 199.8L70.1 213.5L70.6 222.6L71.1 228.8L71.6 232.7L72.1 235.2L72.6 237.1L73.1 238.4L73.6 238.9L74.1 239.2L74.6 239.9L75.1 240.6L75.6 240.9L76.1 240.5L76.6 240.6L77.1 241.1L77.6 240.5L78.1 239.5L78.6 239.2L79.1 239.2L79.6 239.1L80.1 239.6L80.6 240.4L81.1 240.8L81.6 240.9L82.1 240.6L82.6 239.9L83.1 238.9L83.6 237.9L84.1 236.8L84.6 235.9L85.1 236L85.6 237.3L86.1 238.7L86.6 239.6L87.1 240.6L87.6 241.3L88.1 241.2L88.6 241L89.1 241.2L89.6 241.5L90.1 241L90.6 240.6L91.1 241L91.6 241.1L92.1 240.7L92.6 240.2L93.1 239.7L93.6 238.6L94.1 237L94.6 235.5L95.1 234.9L95.6 235.7L96.1 236L96.6 234.6L97.1 232.3L97.6 228.4L98.1 222.6L98.6 215.7L99.1 210.3L99.6 210.6L100.1 217L100.6 224.6L101.1 230.6L101.6 235L102.1 237.5L102.6 239L103.1 240.4L103.6 241L104.1 241L104.6 241.2L105.1 241.5L105.6 241.8L106.1 242L106.6 241.4L107.1 240.7L107.6 240.8L108.1 240.9L108.6 240.7L109.1 240.1L109.6 239.5L110.1 239.3L110.6 238.9L111.1 237.7L111.6 235.8L112.1 234.3L112.6 232.4L113.1 230.3L113.6 230L114.1 231.5L114.6 233.6L115.1 235.6L115.6 237.1L116.1 238.7L116.6 240L117.1 240.5L117.6 240.9L118.1 241.6L118.6 241.7L119.1 241.2L119.6 240.9L120.1 241.2L120.6 241.2L121.1 241.1L121.6 241.6L122.1 241.6L122.6 240.8L123.1 240.3L123.6 240.6L124.1 240.6L124.6 239.5L125.1 238.5L125.6 238.2L126.1 237.9L126.6 237.9L127.1 238.8L127.6 240.1L128.1 240.8L128.6 240.9L129.1 241.2L129.6 241.7L130.1 241.9L130.6 241.6L131.1 241.4L131.6 241.7L132.1 242L132.6 241.7L133.1 242L133.6 242.4L134.1 242.3L134.6 242.3L135.1 242L135.6 241L136.1 240.7L136.6 240.9L137.1 240.8L137.6 240.6L138.1 240.8L138.6 240.7L139.1 240.7L139.6 240.9L140.1 241.4L140.6 241.9L141.1 241.9L141.6 242.1L142.1 242.6L142.6 242.7L143.1 242.5L143.6 242.1L144.1 241.8L144.6 242.2L145.1 242.6L145.6 242.3L146.1 241.8L146.6 241.8L147.1 242.1L147.6 242.1L148.1 242.4L148.6 242.9L149.1 242.7L149.6 242.2L150.1 241.8L150.6 241.6L151.1 241.1L151.6 240.6L152.1 240.3L152.6 239.4L153.1 237.7L153.6 235.6L154.1 233.4L154.6 231.2L155.1 229.8L155.6 230.5L156.1 232.1L156.6 233.6L157.1 235.5L157.6 237.5L158.1 238.4L158.6 239.1L159.1 240.1L159.6 241.3L160.1 242.3L160.6 242.5L161.1 242.1L161.6 241.8L162.1 242L162.6 242.2L163.1 242.4L163.6 242.5L164.1 242.4L164.6 242.2L165.1 241.9L165.6 242L166.1 242.5L166.6 242.7L167.1 242.7L167.6 242.5L168.1 242.4L168.6 242.1L169.1 241.7L169.6 241.7L170.1 241.4L170.6 240.9L171.1 241.1L171.6 241.4L172.1 241.8L172.6 241.9L173.1 241.5L173.6 241.7L174.1 241.4L174.6 239.9L175.1 238.8L175.6 237.9L176.1 236.6L176.6 236.1L177.1 236.5L177.6 236.9L178.1 237.5L178.6 238.7L179.1 239.8L179.6 240.6L180.1 241.3L180.6 241.9L181.1 242L181.6 241.9L182.1 241.9L182.6 242L183.1 242L183.6 242.1L184.1 242.4L184.6 242.2L185.1 242L185.6 241.9L186.1 241.8L186.6 242.1L187.1 242.5L187.6 242.1L188.1 241.5L188.6 241.9L189.1 242.4L189.6 241.6L190.1 240.6L190.6 240.4L191.1 240.5L191.6 240.1L192.1 239.4L192.6 238.7L193.1 237.3L193.6 235.3L194.1 233.3L194.6 231.1L195.1 229.4L195.6 228.3L196.1 228.2L196.6 229.5L197.1 231.9L197.6 234.5L198.1 236.4L198.6 237.6L199.1 238.6L199.6 239.7L200.1 240.3L200.6 240.8L201.1 241.3L201.6 241.1L202.1 241.5L202.6 242.2L203.1 241.7L203.6 241.2L204.1 241.5L204.6 241.6L205.1 241.4L205.6 241.6L206.1 241.5L206.6 241.2L207.1 241.1L207.6 241.1L208.1 241.1L208.6 241L209.1 240.4L209.6 239.6L210.1 239.4L210.6 239.5L211.1 239.6L211.6 240.1L212.1 241L212.6 241.8L213.1 242.1L213.6 242.1L214.1 241.8L214.6 241L215.1 240.9L215.6 241.4L216.1 241.8L216.6 242L217.1 241.8L217.6 241.5L218.1 241.5L218.6 241.4L219.1 240.6L219.6 240.1L220.1 239.7L220.6 239.2L221.1 238.5L221.6 237.7L222.1 236.5L222.6 234.8L223.1 232.1L223.6 228.1L224.1 223.2L224.6 218L225.1 213.8L225.6 212.4L226.1 214.3L226.6 217.3L227.1 219.1L227.6 219.2L228.1 217.4L228.6 212.7L229.1 205.8L229.6 200.1L230.1 198.5L230.6 201.8L231.1 208.4L231.6 216.5L232.1 224.1L232.6 229.7L233.1 233.3L233.6 235.7L234.1 238L234.6 239.8L235.1 240.6L235.6 240.8L236.1 241.4L236.6 242.4L237.1 242.9L237.6 242.9L238.1 242.9L238.6 243.1L239.1 243.3L239.6 243.3L240.1 243.5L240.6 243.9L241.1 244L241.6 243.8L242.1 243.5L242.6 243.1L243.1 243L243.6 242.9L244.1 242.6L244.6 242.4L245.1 242L245.6 241.7L246.1 241L246.6 239.6L247.1 238.5L247.6 237.2L248.1 235.2L248.6 232.2L249.1 227.6L249.6 221.5L250.1 213.3L250.6 202.5L251.1 189.9L251.6 177.6L252.1 168.5L252.6 166.1L253.1 171.3L253.6 182.3L254.1 195.4L254.6 207.8L255.1 217.7L255.6 224.6L256.1 229L256.6 232.6L257.1 235.7L257.6 237.8L258.1 239.1L258.6 240.3L259.1 241.6L259.6 242.7L260.1 243.2L260.6 243.1L261.1 243.3L261.6 243.8L262.1 244.5L262.6 244.9L263.1 244.5L263.6 243.5L264.1 243.3L264.6 243.9L265.1 244.3L265.6 244.4L266.1 244L266.6 243.4L267.1 243.1L267.6 242.3L268.1 241.5L268.6 241.1L269.1 240.2L269.6 238.2L270.1 236.3L270.6 234.1L271.1 230.7L271.6 225.8L272.1 219.2L272.6 210.4L273.1 198.4L273.6 183.8L274.1 168.1L274.6 155.3L275.1 150.2L275.6 154.6L276.1 167.1L276.6 182.4L277.1 196.3L277.6 207.4L278.1 215.6L278.6 221.1L279.1 224.2L279.6 225.7L280.1 226.5L280.6 226.7L281.1 227.7L281.6 229.8L282.1 232.2L282.6 234.9L283.1 237.9L283.6 240L284.1 240.9L284.6 241.8L285.1 242.8L285.6 243L286.1 243.3L286.6 244.5L287.1 245L287.6 244.6L288.1 244.5L288.6 244.6L289.1 244.3L289.6 244.5L290.1 244.9L290.6 245.1L291.1 245.1L291.6 244.9L292.1 244.7L292.6 244.7L293.1 244.6L293.6 244.2L294.1 243.5L294.6 242.7L295.1 242L295.6 241L296.1 239.8L296.6 239.6L297.1 240.4L297.6 241.7L298.1 242.9L298.6 243.3L299.1 243.3L299.6 243.3L300.1 242.5L300.6 241.2L301.1 240L301.6 239.7L302.1 240.3L302.6 241.1L303.1 242.1L303.6 242.5L304.1 242.1L304.6 242.1L305.1 241.8L305.6 240.8L306.1 240L306.6 240L307.1 240.9L307.6 242L308.1 242.3L308.6 242.2L309.1 242.4L309.6 242.6L310.1 242.6L310.6 241.9L311.1 240.7L311.6 239.6L312.1 238.4L312.6 236.3L313.1 233.3L313.6 230.2L314.1 225.6L314.6 218.7L315.1 209.1L315.6 196.7L316.1 182.4L316.6 167.7L317.1 156.4L317.6 152.5L318.1 157.1L318.6 166.9L319.1 177.5L319.6 185.6L320.1 189.4L320.6 188.7L321.1 183L321.6 173.8L322.1 164.1L322.6 157.6L323.1 158L323.6 166.8L324.1 180.5L324.6 194.2L325.1 206.2L325.6 216L326.1 223.1L326.6 228.9L327.1 233.1L327.6 235.4L328.1 237.9L328.6 239.8L329.1 240.2L329.6 240.2L330.1 240.1L330.6 239.7L331.1 239.8L331.6 240.6L332.1 241.2L332.6 241.2L333.1 241.8L333.6 242.8L334.1 243.6L334.6 243.8L335.1 243.6L335.6 243.7L336.1 243.9L336.6 244.3L337.1 244.3L337.6 243.6L338.1 243L338.6 242.1L339.1 241.3L339.6 240.8L340.1 239.6L340.6 238.1L341.1 238L341.6 238.7L342.1 239.5L342.6 240.7L343.1 242.1L343.6 242.9L344.1 243L344.6 242.7L345.1 242.5L345.6 242.3L346.1 242.4L346.6 242.9L347.1 242.7L347.6 242.4L348.1 242.2L348.6 241.8L349.1 241.3L349.6 240.5L350.1 239.2L350.6 237.5L351.1 235.8L351.6 234.1L352.1 231.8L352.6 228.1L353.1 221.9L353.6 213.6L354.1 203.1L354.6 189L355.1 171.3L355.6 151.4L356.1 133L356.6 122.3L357.1 123.2L357.6 135.2L358.1 154.2L358.6 174.4L359.1 191.4L359.6 204.4L360.1 214.6L360.6 222.2L361.1 227.3L361.6 230.8L362.1 233.5L362.6 235.8L363.1 237.8L363.6 239.1L364.1 239.9L364.6 240.1L365.1 240.6L365.6 240.8L366.1 240.3L366.6 240.6L367.1 241.3L367.6 241.6L368.1 241.7L368.6 241.5L369.1 241.6L369.6 242L370.1 241.7L370.6 241.3L371.1 241.7L371.6 242.3L372.1 242.1L372.6 241.8L373.1 241.8L373.6 241.9L374.1 242.6L374.6 242.8L375.1 242.3L375.6 242.4L376.1 242.7L376.6 242.6L377.1 242.4L377.6 242.4L378.1 242.4L378.6 242L379.1 241.4L379.6 241.2L380.1 241.5L380.6 241.7L381.1 241.9L381.6 242.2L382.1 242.4L382.6 242.5L383.1 242.7L383.6 242.3L384.1 242.1L384.6 242L385.1 242.2L385.6 242.8L386.1 242.8L386.6 242.3L387.1 242.2L387.6 242.2L388.1 242.4L388.6 242.6L389.1 242.3L389.6 242L390.1 242L390.6 241.7L391.1 241.7L391.6 242.3L392.1 242.4L392.6 242L393.1 242.3L393.6 242.2L394.1 241.8L394.6 241.9L395.1 242.1L395.6 242.5L396.1 242.7L396.6 242.2L397.1 241.8L397.6 242.1L398.1 242.3L398.6 242.1L399.1 242.1L399.6 242.3L400.1 242.7L400.6 242.7" fill="none" stroke="#0000ff" stroke-width="2.5" stroke-linejoin="round" stroke-linecap="butt"/>
<path d="M28 261.6L28.5 260.2L29 260.1L29.5 261.2L30 262.5L30.5 263.9L31 264.9L31.5 265.4L32 265.8L32.5 266.4L33 266.6L33.5 266.3L34 265.9L34.5 265.9L35 266.3L35.5 266L36 264.9L36.5 264.1L37 264L37.5 263.7L38 263L38.5 262.9L39 262.8L39.5 262.9L40 263.5L40.5 264L41 264.2L41.5 264.3L42 264.2L42.5 263.8L43 263.1L43.5 262.1L44 260.7L44.5 258.6L45 255.5L45.5 251.1L46 244.2L46.5 234.3L47 219.5L47.5 197L48 167.3L48.5 135.2L49 113.3L49.5 115.6L50 140.7L50.5 173.8L51 202.3L51.5 223.2L52 237.7L52.5 246.7L53 252.1L53.5 255.8L54 258.5L54.5 260.5L55 262L55.5 262.9L56 263.6L56.5 264.5L57 264.8L57.5 265L58 265L58.5 264.6L59 264.2L59.5 263.1L60 261.9L60.5 261.9L61 262.2L61.5 262.8L62 264.1L62.5 264.7L63 264.6L63.5 264.4L64 264.1L64.5 263.3L65 262L65.5 260.7L66 259.8L66.5 259.7L67 260.7L67.5 262L68 263.2L68.5 264.3L69 264.5L69.5 264.7L70 265.7L70.5 266.2L71 266L71.5 265.8L72 265.9L72.5 265.8L73 265.4L73.5 264.7L74 263.8L74.5 263.1L75 261.8L75.5 260L76 258.7L76.5 258L77 257.4L77.5 257.3L78 257L78.5 256.1L79 253.4L79.5 247.5L80 238.9L80.5 230.5L81 226.6L81.5 230.1L82 238.8L82.5 247.8L83 254.4L83.5 259.5L84 262.3L84.5 263.2L85 264L85.5 264.6L86 265L86.5 265.4L87 265.5L87.5 266L88 266.3L88.5 266.1L89 265.4L89.5 265.3L90 265.6L90.5 265.4L91 264.9L91.5 264L92 262.7L92.5 261.7L93 260.5L93.5 258.3L94 256.1L94.5 254.5L95 253.3L95.5 253.2L96 254.8L96.5 257.5L97 259.8L97.5 261.8L98 263.2L98.5 263.7L99 264.3L99.5 265.2L100 265.9L100.5 266L101 265.7L101.5 265.8L102 266L102.5 265.7L103 265.6L103.5 265.9L104 265.9L104.5 265.8L105 265.2L105.5 264.1L106 263.2L106.5 262.7L107 262.5L107.5 262.1L108 261.8L108.5 262.1L109 262.8L109.5 263.5L110 263.8L110.5 263.8L111 264.2L111.5 264.8L112 265.4L112.5 265.8L113 266L113.5 266.1L114 266.3L114.5 266.6L115 266.4L115.5 266L116 265.8L116.5 265.9L117 265.8L117.5 265.5L118 265L118.5 264.1L119 263.8L119.5 263.9L120 264.3L120.5 265.1L121 265.5L121.5 265.2L122 265.3L122.5 266.1L123 266.5L123.5 266.7L124 267.2L124.5 267.4L125 267L125.5 266.7L126 266.5L126.5 266.2L127 266.4L127.5 266.3L128 265.8L128.5 266.1L129 266.9L129.5 266.7L130 266.4L130.5 266.8L131 267L131.5 266.9L132 266.7L132.5 266.1L133 265.1L133.5 263.8L134 262.9L134.5 262.4L135 261.2L135.5 258.6L136 255.7L136.5 253.4L137 252.8L137.5 253.9L138 256.1L138.5 258.9L139 261.1L139.5 262.3L140 263.2L140.5 264.3L141 265.6L141.5 265.7L142 265.7L142.5 266L143 266.3L143.5 266.5L144 266.4L144.5 266.4L145 266.9L145.5 267L146 266.9L146.5 266.8L147 266.4L147.5 266.3L148 266.1L148.5 266.1L149 266.5L149.5 266.9L150 267.1L150.5 267.2L151 267L151.5 266.7L152 266.7L152.5 266.5L153 266.3L153.5 266.3L154 265.9L154.5 265L155 264.7L155.5 264.8L156 264.3L156.5 263.3L157 261.8L157.5 260L158 258.7L158.5 258L159 258.4L159.5 259.9L160 261.4L160.5 262.4L161 263.3L161.5 264.2L162 264.7L162.5 264.9L163 265.2L163.5 265.9L164 266.7L164.5 266.8L165 266.3L165.5 266.3L166 266.8L166.5 266.9L167 267.1L167.5 267.1L168 266.9L168.5 266.8L169 266.6L169.5 266.3L170 266.2L170.5 266L171 265.9L171.5 265.9L172 265.4L172.5 264.8L173 264.4L173.5 263.9L174 263.3L174.5 262L175 260.4L175.5 258.8L176 256.2L176.5 252.7L177 250.6L177.5 249.9L178 250.4L178.5 252.6L179 255.5L179.5 258.5L180 260.9L180.5 262.3L181 263.6L181.5 264.4L182 264.7L182.5 265.1L183 265.9L183.5 266.4L184 266.8L184.5 267.3L185 267.3L185.5 267.3L186 267.2L186.5 266.9L187 266.5L187.5 265.9L188 265.9L188.5 266.4L189 266L189.5 265L190 263.6L190.5 261.7L191 259.7L191.5 258.1L192 257.8L192.5 259.5L193 262L193.5 263.8L194 264.9L194.5 265.9L195 266.2L195.5 266.2L196 266.4L196.5 266.7L197 266.8L197.5 266.9L198 267.1L198.5 267.1L199 266.9L199.5 266L200 265.2L200.5 265L201 264L201.5 262.9L202 262.8L202.5 263.1L203 262.7L203.5 261.9L204 260.7L204.5 259L205 256.4L205.5 251.9L206 246.5L206.5 242L207 238.9L207.5 238.2L208 240.1L208.5 242.8L209 243.9L209.5 242L210 237.9L210.5 231.6L211 224.1L211.5 219.1L212 219.2L212.5 224.6L213 233.2L213.5 242.9L214 250.6L214.5 255.4L215 258.8L215.5 261.3L216 263.2L216.5 265.1L217 266.1L217.5 266.5L218 266.7L218.5 267.4L219 268.4L219.5 268.9L220 269L220.5 268.9L221 268.6L221.5 268.7L222 269L222.5 268.8L223 268.3L223.5 268.4L224 268.5L224.5 268.3L225 268.1L225.5 267.7L226 267.3L226.5 267.2L227 266.7L227.5 265.8L228 264.9L228.5 263.9L229 262.7L229.5 260.8L230 258L230.5 254L231 248.3L231.5 240.6L232 230.6L232.5 218.2L233 204.1L233.5 190.7L234 182.5L234.5 183.5L235 193.2L235.5 207.1L236 221.6L236.5 233.8L237 242.6L237.5 249.4L238 255L238.5 259.1L239 261.6L239.5 263.1L240 264.4L240.5 265.3L241 265.8L241.5 266.9L242 268.1L242.5 268.6L243 268.7L243.5 269.1L244 269.5L244.5 269.6L245 269.2L245.5 268.7L246 268.5L246.5 268.2L247 268.2L247.5 268.7L248 268.5L248.5 267.7L249 267.3L249.5 266.8L250 265.6L250.5 264.2L251 263.1L251.5 261.9L252 259.7L252.5 256.4L253 252L253.5 245.9L254 237.8L254.5 227L255 212.9L255.5 195.7L256 179.1L256.5 168.5L257 167.6L257.5 176.9L258 192L258.5 208.1L259 221.8L259.5 232.5L260 240.4L260.5 245.2L261 246.9L261.5 247.2L262 247.6L262.5 248.4L263 249.8L263.5 252.4L264 255.9L264.5 259.3L265 261.5L265.5 262.9L266 264.6L266.5 266.3L267 267.3L267.5 267.7L268 268L268.5 268.3L269 268.4L269.5 268.8L270 268.8L270.5 268.6L271 268.6L271.5 268.6L272 268.9L272.5 268.9L273 268.5L273.5 268L274 267.4L274.5 266.9L275 266L275.5 264.1L276 261.4L276.5 257.4L277 251.4L277.5 245L278 242L278.5 244.8L279 250.9L279.5 257L280 260.9L280.5 263.1L281 264.5L281.5 265.2L282 265.4L282.5 264.4L283 262.8L283.5 262.2L284 262.5L284.5 263.6L285 264.9L285.5 265.3L286 265.1L286.5 264.8L287 264.4L287.5 263.8L288 263.3L288.5 263.5L289 264.3L289.5 265.3L290 265.9L290.5 266L291 266.2L291.5 266.7L292 266.2L292.5 264.9L293 264L293.5 263.2L294 261.6L294.5 259.1L295 256L295.5 251.9L296 246.2L296.5 238.1L297 226.8L297.5 212.8L298 197.5L298.5 182.6L299 173L299.5 172.3L300 179.4L300.5 190.5L301 200.8L301.5 207.8L302 209.8L302.5 205.6L303 197L303.5 186.4L304 176.7L304.5 172.6L305 176.9L305.5 188.3L306 203.4L306.5 218.1L307 230.6L307.5 240.7L308 247.9L308.5 252.4L309 255.6L309.5 258.7L310 260.9L310.5 261.6L311 262.1L311.5 263.2L312 263.7L312.5 263.5L313 263.2L313.5 263.5L314 264.9L314.5 265.8L315 265.8L315.5 266.2L316 267.1L316.5 267L317 266.7L317.5 266.8L318 266.8L318.5 266.6L319 266.3L319.5 266.1L320 265.6L320.5 265L321 264.3L321.5 263L322 261.5L322.5 261L323 261.3L323.5 262.4L324 263.2L324.5 263.7L325 264.2L325.5 264.7L326 265.3L326.5 265.8L327 266L327.5 265.9L328 265.6L328.5 265.5L329 265.5L329.5 265.1L330 264.6L330.5 264.2L331 263.6L331.5 262.5L332 261.4L332.5 260.2L333 258.5L333.5 256L334 252.5L334.5 248L335 241.9L335.5 232.7L336 220.1L336.5 204.3L337 185L337.5 164.3L338 147.6L338.5 141L339 147.4L339.5 164.2L340 184.8L340.5 204.1L341 219.7L341.5 231.7L342 240.8L342.5 247.5L343 252.4L343.5 255.9L344 258.2L344.5 259.4L345 261L345.5 263.2L346 264.2L346.5 264.1L347 264.4L347.5 265L348 265.5L348.5 265.7L349 265.7L349.5 265.8L350 265.7L350.5 265.8L351 266L351.5 266L352 266L352.5 266.5L353 267.1L353.5 267.1L354 266.7L354.5 266.8L355 267L355.5 266.9L356 267L356.5 267L357 267.3L357.5 267.2L358 266.7L358.5 266.7L359 266.5L359.5 266.2L360 266.1L360.5 266.7L361 267.4L361.5 267.4L362 266.8L362.5 266.4L363 266.6L363.5 266.9L364 266.8L364.5 266.8L365 266.7L365.5 266.5L366 266.4L366.5 266.4L367 266.5L367.5 266.6L368 266.7L368.5 266.7L369 266.6L369.5 266.7L370 266.9L370.5 267.1L371 266.9L371.5 267.1L372 267.3L372.5 267.2L373 267.5L373.5 267.4L374 266.9L374.5 266.7L375 266.7L375.5 266.8L376 266.7L376.5 266.2L377 265.9L377.5 266.7L378 267.5L378.5 267.3L379 266.3L379.5 265.9L380 266.7L380.5 267L381 266.7L381.5 266.9L382 267.3" fill="none" stroke="#00ffff" stroke-width="2.5" stroke-linejoin="round" stroke-linecap="butt"/>
<path d="M8.9 288.4L9.4 288.7L9.9 289.3L10.4 289L10.9 288.8L11.4 289L11.9 288.9L12.4 288.8L12.9 288.9L13.4 288.9L13.9 288.6L14.4 288.6L14.9 288.8L15.4 288.7L15.9 288.6L16.4 288.9L16.9 289.1L17.4 288.8L17.9 288.5L18.4 289.3L18.9 289.9L19.4 289.6L19.9 288.6L20.4 287.8L20.9 287.8L21.4 288L21.9 288.2L22.4 288.2L22.9 288.4L23.4 288.4L23.9 288.5L24.4 288.4L24.9 288.1L25.4 287.6L25.9 286.9L26.4 286.2L26.9 285.4L27.4 283.8L27.9 281.4L28.4 278.3L28.9 274.7L29.4 272L29.9 272L30.4 274.4L30.9 278L31.4 281.3L31.9 283.6L32.4 285.1L32.9 286.2L33.4 287.1L33.9 287.6L34.4 288L34.9 288.2L35.4 288.1L35.9 288.1L36.4 288L36.9 287.7L37.4 288L37.9 288.7L38.4 288.9L38.9 289L39.4 288.8L39.9 288.6L40.4 288.9L40.9 289L41.4 288.8L41.9 288.8L42.4 289.2L42.9 289.2L43.4 288.8L43.9 288.6L44.4 288.5L44.9 288.4L45.4 288.2L45.9 287.7L46.4 287.6L46.9 288.1L47.4 288.4L47.9 288.6L48.4 288.5L48.9 287.8L49.4 288.1L49.9 289.1L50.4 289.2L50.9 289.2L51.4 289.5L51.9 289.1L52.4 288.7L52.9 289L53.4 289.3L53.9 288.8L54.4 288.6L54.9 288.9L55.4 288.9L55.9 288.5L56.4 288.4L56.9 288.7L57.4 288.5L57.9 288.5L58.4 288.8L58.9 288.6L59.4 288.3L59.9 287.3L60.4 285.8L60.9 284.6L61.4 284.1L61.9 284.3L62.4 284.9L62.9 286.2L63.4 287.3L63.9 287.9L64.4 287.9L64.9 287.8L65.4 288.4L65.9 288.9L66.4 288.9L66.9 288.9L67.4 288.7L67.9 288.9L68.4 289.3L68.9 289.4L69.4 289L69.9 288.1L70.4 287.5L70.9 287.7L71.4 288L71.9 288L72.4 287.8L72.9 287.4L73.4 287.3L73.9 287.6L74.4 287.5L74.9 287L75.4 286.6L75.9 286.8L76.4 286.8L76.9 286.7L77.4 287L77.9 287L78.4 287.4L78.9 288.4L79.4 288.9L79.9 288.9L80.4 288.7L80.9 288.4L81.4 288.3L81.9 288.9L82.4 289L82.9 288.5L83.4 288.3L83.9 288.3L84.4 288.3L84.9 288.1L85.4 288.3L85.9 288.6L86.4 288.7L86.9 288.6L87.4 288.2L87.9 288.4L88.4 288.9L88.9 288.4L89.4 288.2L89.9 288.3L90.4 288.7L90.9 289.5L91.4 289.5L91.9 289.2L92.4 289.1L92.9 288.9L93.4 289.2L93.9 289.4L94.4 288.8L94.9 288.3L95.4 288.6L95.9 289.1L96.4 289L96.9 288.7L97.4 288.4L97.9 288.5L98.4 289L98.9 289.5L99.4 289.2L99.9 288.7L100.4 288.2L100.9 288L101.4 288.5L101.9 288.8L102.4 289L102.9 288.9L103.4 288.7L103.9 288.7L104.4 289.1L104.9 289.3L105.4 289.2L105.9 288.8L106.4 288.4L106.9 288.6L107.4 288.9L107.9 288.8L108.4 288.9L108.9 288.7L109.4 288.6L109.9 289L110.4 289.2L110.9 289.5L111.4 289.5L111.9 288.8L112.4 288.8L112.9 289.3L113.4 289.5L113.9 288.9L114.4 288.3L114.9 288.4L115.4 288.7L115.9 288.7L116.4 288.6L116.9 288.4L117.4 287.8L117.9 287.6L118.4 287.9L118.9 288.2L119.4 288.2L119.9 288.5L120.4 289.1L120.9 288.9L121.4 288.8L121.9 289L122.4 289L122.9 288.8L123.4 289L123.9 289.1L124.4 288.8L124.9 288.7L125.4 288.7L125.9 288.7L126.4 288.8L126.9 289L127.4 289.3L127.9 289.1L128.4 289L128.9 289.3L129.4 289.3L129.9 289.5L130.4 289.8L130.9 289.5L131.4 289L131.9 288.9L132.4 289L132.9 288.4L133.4 288.2L133.9 288.7L134.4 289.1L134.9 289L135.4 288.7L135.9 288.4L136.4 288.3L136.9 288.4L137.4 288.4L137.9 288.4L138.4 288.1L138.9 287.6L139.4 287.6L139.9 288.1L140.4 288.7L140.9 288.8L141.4 288.7L141.9 288.7L142.4 288.5L142.9 288.6L143.4 288.9L143.9 288.9L144.4 288.8L144.9 289.1L145.4 289.4L145.9 289.3L146.4 288.8L146.9 288.7L147.4 288.8L147.9 288.6L148.4 288.8L148.9 289.2L149.4 288.8L149.9 288.5L150.4 288.2L150.9 288L151.4 288.2L151.9 288.5L152.4 288.5L152.9 288.8L153.4 289.5L153.9 289.4L154.4 288.7L154.9 288.3L155.4 288L155.9 287.7L156.4 287.5L156.9 287.5L157.4 287.3L157.9 287L158.4 286.8L158.9 286.9L159.4 287.4L159.9 288L160.4 288.6L160.9 288.6L161.4 288.2L161.9 288L162.4 288.3L162.9 288.8L163.4 288.8L163.9 288.4L164.4 288.4L164.9 288.5L165.4 288.6L165.9 288.5L166.4 288.4L166.9 288.7L167.4 289L167.9 289.2L168.4 288.8L168.9 288.4L169.4 288.6L169.9 288.8L170.4 288.6L170.9 288.7L171.4 288.7L171.9 288.7L172.4 288.5L172.9 288.2L173.4 288.7L173.9 289.2L174.4 288.9L174.9 288.7L175.4 288.7L175.9 288.3L176.4 288.3L176.9 288.4L177.4 288.1L177.9 288.3L178.4 288.9L178.9 288.6L179.4 288.4L179.9 288.5L180.4 288.3L180.9 288.3L181.4 288.1L181.9 287.7L182.4 287.6L182.9 287.7L183.4 288.2L183.9 288.6L184.4 288.1L184.9 287.8L185.4 287.9L185.9 287.2L186.4 285.7L186.9 284.4L187.4 283.9L187.9 284.1L188.4 284.7L188.9 285.1L189.4 285.3L189.9 285.2L190.4 285.3L190.9 284.8L191.4 283.6L191.9 282.7L192.4 282.6L192.9 282.8L193.4 283.3L193.9 284.9L194.4 286.5L194.9 287.4L195.4 288L195.9 288L196.4 287.9L196.9 288.4L197.4 288.9L197.9 288.9L198.4 288.7L198.9 288.7L199.4 288.6L199.9 288.8L200.4 288.8L200.9 288.6L201.4 288.7L201.9 288.8L202.4 288.6L202.9 288.6L203.4 288.7L203.9 288.7L204.4 288.7L204.9 288.6L205.4 288.5L205.9 288.3L206.4 288.5L206.9 289L207.4 289.2L207.9 288.8L208.4 288.4L208.9 288.3L209.4 288.3L209.9 287.9L210.4 287.5L210.9 287.4L211.4 286.2L211.9 284.9L212.4 284.1L212.9 283L213.4 281.2L213.9 279.4L214.4 278.7L214.9 278.8L215.4 279L215.9 280.5L216.4 282.3L216.9 283.6L217.4 285.1L217.9 286.3L218.4 286.9L218.9 287.1L219.4 287.5L219.9 287.8L220.4 287.8L220.9 288L221.4 288.6L221.9 288.8L222.4 288.5L222.9 288.4L223.4 288.8L223.9 288.8L224.4 288.6L224.9 288.3L225.4 288.2L225.9 287.9L226.4 287.8L226.9 288.3L227.4 288.9L227.9 288.9L228.4 289L228.9 289L229.4 288.6L229.9 288.3L230.4 288.5L230.9 288.6L231.4 288.6L231.9 288.3L232.4 287.9L232.9 287.5L233.4 287.2L233.9 286.6L234.4 285.2L234.9 283.5L235.4 281.6L235.9 279.4L236.4 277.2L236.9 275.8L237.4 275.5L237.9 276.8L238.4 278.9L238.9 280.9L239.4 282.5L239.9 283.8L240.4 285.5L240.9 286.6L241.4 286.8L241.9 287.4L242.4 288L242.9 287.8L243.4 287.7L243.9 287.9L244.4 287.6L244.9 287.8L245.4 288.3L245.9 288.7L246.4 289.1L246.9 289.1L247.4 288.8L247.9 288.7L248.4 288.7L248.9 288.7L249.4 288.9L249.9 289.2L250.4 289.1L250.9 289.1L251.4 289.1L251.9 288.9L252.4 288.5L252.9 288.2L253.4 288.6L253.9 288.9L254.4 288.8L254.9 288.7L255.4 288.5L255.9 288.3L256.4 288L256.9 287.5L257.4 287L257.9 286.7L258.4 286.2L258.9 285.7L259.4 286L259.9 287L260.4 287.8L260.9 288L261.4 288.3L261.9 288.4L262.4 288.2L262.9 288.4L263.4 288.5L263.9 288.6L264.4 288.8L264.9 288.8L265.4 288.7L265.9 288.6L266.4 288.9L266.9 289L267.4 288.8L267.9 288.5L268.4 288.3L268.9 288.2L269.4 288.4L269.9 288.9L270.4 289L270.9 289L271.4 289.1L271.9 289.2L272.4 289.1L272.9 289.1L273.4 289.1L273.9 288.9L274.4 288.6L274.9 288.3L275.4 287.8L275.9 286.9L276.4 286.1L276.9 285.2L277.4 283.6L277.9 281.7L278.4 280L278.9 278.3L279.4 276.9L279.9 276.4L280.4 277.2L280.9 278.7L281.4 279.8L281.9 280.5L282.4 280.9L282.9 281L283.4 280.5L283.9 279.2L284.4 277.9L284.9 277.3L285.4 277.5L285.9 278.7L286.4 280.6L286.9 282.5L287.4 284L287.9 285.3L288.4 286.3L288.9 287L289.4 287.6L289.9 288.3L290.4 288.7L290.9 288.6L291.4 288.3L291.9 287.8L292.4 287.6L292.9 287.7L293.4 288L293.9 288.3L294.4 288.3L294.9 288.5L295.4 288.8L295.9 288.8L296.4 289L296.9 289.1L297.4 288.8L297.9 289L298.4 289L298.9 288.8L299.4 289.2L299.9 289.1L300.4 288L300.9 287.6L301.4 287.9L301.9 288.2L302.4 288.1L302.9 287.7L303.4 288.4L303.9 289.2L304.4 288.7L304.9 288.5L305.4 288.8L305.9 288.5L306.4 288.4L306.9 288.8L307.4 288.9L307.9 288.7L308.4 288.3L308.9 288.3L309.4 288.7L309.9 288.7L310.4 288.5L310.9 288.4L311.4 288.1L311.9 287.5L312.4 287.1L312.9 287.4L313.4 287.4L313.9 287.3L314.4 287.1L314.9 286.3L315.4 285.2L315.9 284.2L316.4 282.9L316.9 280.8L317.4 277.9L317.9 275.1L318.4 273.1L318.9 272.2L319.4 272.8L319.9 275.1L320.4 277.6L320.9 280.1L321.4 282.4L321.9 284L322.4 285L322.9 285.9L323.4 286.4L323.9 286.5L324.4 287L324.9 287.7L325.4 288.4L325.9 289L326.4 289L326.9 288.9L327.4 288.9L327.9 288.5L328.4 288L328.9 288.3L329.4 288.9L329.9 289L330.4 288.7L330.9 288.4L331.4 288.2L331.9 288.2L332.4 288.3L332.9 288.4L333.4 288.7L333.9 288.7L334.4 288.6L334.9 289L335.4 289.7L335.9 289.8L336.4 289.5L336.9 289.2L337.4 289L337.9 288.8L338.4 288.8L338.9 288.8L339.4 288.7L339.9 288.5L340.4 288.6L340.9 289.3L341.4 289.7L341.9 289.3L342.4 288.9L342.9 289.1L343.4 289.4L343.9 289.5L344.4 289.4L344.9 289.4L345.4 289.5L345.9 289.2L346.4 288.9L346.9 288.9L347.4 289L347.9 288.9L348.4 288.5L348.9 288.6L349.4 289L349.9 289.2L350.4 288.9L350.9 288.6L351.4 288.9L351.9 289.2L352.4 288.7L352.9 288.6L353.4 288.9L353.9 289.2L354.4 289.1L354.9 289.2L355.4 289L355.9 288.5L356.4 288.3L356.9 288.3L357.4 288.7L357.9 289.1L358.4 288.9L358.9 288.5L359.4 288.4L359.9 288.5L360.4 288.3L360.9 288.2L361.4 288.5L361.9 289.1L362.4 289.6L362.9 289.8L363.4 289.6" fill="none" stroke="#ff00ff" stroke-width="2.5" stroke-linejoin="round" stroke-linecap="butt"/>
<path d="M246 169.1L246.5 168.8L247 169L247.5 169.4L248 169.5L248.5 169.2L249 169.1L249.5 169L250 168.9L250.5 168.8L251 169.1L251.5 169.6L252 169.8L252.5 169.3L253 168.8L253.5 169L254 169.3L254.5 169.2L255 169.1L255.5 169.3L256 169.6L256.5 169.7L257 169.3L257.5 169L258 169.2L258.5 169.1L259 169L259.5 169.3L260 169.5L260.5 169.3L261 169.1L261.5 169.4L262 169.7L262.5 169.5L263 169.2L263.5 169.1L264 168.9L264.5 168.8L265 169.1L265.5 169.5L266 169.7L266.5 169.3L267 169L267.5 169L268 169.1L268.5 169.2L269 169.4L269.5 169.8L270 170L270.5 169.7L271 169.2L271.5 168.9L272 168.8L272.5 168.9L273 169.3L273.5 169.3L274 169.3L274.5 169.3L275 169.1L275.5 169.3L276 169.4L276.5 169.2L277 169.2L277.5 169.2L278 169L278.5 169.2L279 169.3L279.5 168.9L280 168.9L280.5 169.2L281 168.8L281.5 168.6L282 168.8L282.5 169L283 169.2L283.5 168.9L284 168.5" fill="none" stroke="#000" stroke-width="2.5" stroke-linejoin="round"/>
<path d="M333 167.9L333.5 168.3L334 168.8L334.5 169L335 169.1L335.5 169.3L336 169.4L336.5 169.4L337 169.6L337.5 169.6L338 169.4L338.5 169.1L339 168.8L339.5 168.8L340 169.3L340.5 169.2L341 169.1L341.5 169.4L342 169.4L342.5 169.3L343 169.2L343.5 168.9L344 168.5" fill="none" stroke="#000" stroke-width="2.5" stroke-linejoin="round"/>
<path d="M370 168.9L370.5 168.4L371 168.3L371.5 168.4L372 168.5L372.5 168.3L373 168L373.5 167.9L374 167.9L374.5 168L375 168.3L375.5 168.5L376 168.3L376.5 168.1L377 168.3L377.5 168.3L378 168L378.5 167.8L379 168.1L379.5 168.6L380 168.7L380.5 168.7L381 168.8" fill="none" stroke="#000" stroke-width="2.5" stroke-linejoin="round"/>
<line x1="0.8" y1="148" x2="0.8" y2="308.5" stroke="#000" stroke-width="1.6" />
<line x1="0.2" y1="308.5" x2="353.8" y2="308.5" stroke="#222" stroke-width="1.3" />
<line x1="14.2" y1="308.5" x2="14.2" y2="312.5" stroke="#222" stroke-width="1" />
<line x1="70.8" y1="308.5" x2="70.8" y2="312.5" stroke="#222" stroke-width="1" />
<line x1="127.4" y1="308.5" x2="127.4" y2="312.5" stroke="#222" stroke-width="1" />
<line x1="184" y1="308.5" x2="184" y2="312.5" stroke="#222" stroke-width="1" />
<line x1="240.6" y1="308.5" x2="240.6" y2="312.5" stroke="#222" stroke-width="1" />
<line x1="297.2" y1="308.5" x2="297.2" y2="312.5" stroke="#222" stroke-width="1" />
<line x1="353.8" y1="308.5" x2="353.8" y2="312.5" stroke="#222" stroke-width="1" />
<line x1="2.9" y1="308.5" x2="2.9" y2="310.7" stroke="#222" stroke-width="0.8" />
<line x1="25.5" y1="308.5" x2="25.5" y2="310.7" stroke="#222" stroke-width="0.8" />
<line x1="36.8" y1="308.5" x2="36.8" y2="310.7" stroke="#222" stroke-width="0.8" />
<line x1="48.2" y1="308.5" x2="48.2" y2="310.7" stroke="#222" stroke-width="0.8" />
<line x1="59.5" y1="308.5" x2="59.5" y2="310.7" stroke="#222" stroke-width="0.8" />
<line x1="82.1" y1="308.5" x2="82.1" y2="310.7" stroke="#222" stroke-width="0.8" />
<line x1="93.4" y1="308.5" x2="93.4" y2="310.7" stroke="#222" stroke-width="0.8" />
<line x1="104.8" y1="308.5" x2="104.8" y2="310.7" stroke="#222" stroke-width="0.8" />
<line x1="116.1" y1="308.5" x2="116.1" y2="310.7" stroke="#222" stroke-width="0.8" />
<line x1="138.7" y1="308.5" x2="138.7" y2="310.7" stroke="#222" stroke-width="0.8" />
<line x1="150" y1="308.5" x2="150" y2="310.7" stroke="#222" stroke-width="0.8" />
<line x1="161.4" y1="308.5" x2="161.4" y2="310.7" stroke="#222" stroke-width="0.8" />
<line x1="172.7" y1="308.5" x2="172.7" y2="310.7" stroke="#222" stroke-width="0.8" />
<line x1="195.3" y1="308.5" x2="195.3" y2="310.7" stroke="#222" stroke-width="0.8" />
<line x1="206.6" y1="308.5" x2="206.6" y2="310.7" stroke="#222" stroke-width="0.8" />
<line x1="218" y1="308.5" x2="218" y2="310.7" stroke="#222" stroke-width="0.8" />
<line x1="229.3" y1="308.5" x2="229.3" y2="310.7" stroke="#222" stroke-width="0.8" />
<line x1="251.9" y1="308.5" x2="251.9" y2="310.7" stroke="#222" stroke-width="0.8" />
<line x1="263.2" y1="308.5" x2="263.2" y2="310.7" stroke="#222" stroke-width="0.8" />
<line x1="274.6" y1="308.5" x2="274.6" y2="310.7" stroke="#222" stroke-width="0.8" />
<line x1="285.9" y1="308.5" x2="285.9" y2="310.7" stroke="#222" stroke-width="0.8" />
<line x1="308.5" y1="308.5" x2="308.5" y2="310.7" stroke="#222" stroke-width="0.8" />
<line x1="319.8" y1="308.5" x2="319.8" y2="310.7" stroke="#222" stroke-width="0.8" />
<line x1="331.2" y1="308.5" x2="331.2" y2="310.7" stroke="#222" stroke-width="0.8" />
<line x1="342.5" y1="308.5" x2="342.5" y2="310.7" stroke="#222" stroke-width="0.8" />
<text x="14.5" y="328.8" font-size="16.1" font-weight="bold" text-anchor="middle" >600</text>
<text x="71.1" y="328.8" font-size="16.1" font-weight="bold" text-anchor="middle" >800</text>
<text x="127.7" y="328.8" font-size="16.1" font-weight="bold" text-anchor="middle" >1000</text>
<text x="184.3" y="328.8" font-size="16.1" font-weight="bold" text-anchor="middle" >1200</text>
<text x="240.9" y="328.8" font-size="16.1" font-weight="bold" text-anchor="middle" >1400</text>
<text x="297.5" y="328.8" font-size="16.1" font-weight="bold" text-anchor="middle" >1600</text>
<text x="354.1" y="328.8" font-size="16.1" font-weight="bold" text-anchor="middle" >1800</text>
<line x1="362.3" y1="297" x2="366.1" y2="297" stroke="#333" stroke-width="0.9" />
<text transform="matrix(1 0 -0.619 0.785 363.9 306)" font-size="13.1" font-weight="bold">PS80min@Ag</text>
<line x1="381.2" y1="273" x2="385" y2="273" stroke="#333" stroke-width="0.9" />
<text transform="matrix(1 0 -0.619 0.785 382.6 282)" font-size="13.1" font-weight="bold">PS40min@Ag</text>
<line x1="400.1" y1="249" x2="403.9" y2="249" stroke="#333" stroke-width="0.9" />
<text transform="matrix(1 0 -0.619 0.785 401.4 258)" font-size="13.1" font-weight="bold">PS20min@Ag</text>
<line x1="419" y1="225" x2="422.8" y2="225" stroke="#333" stroke-width="0.9" />
<text transform="matrix(1 0 -0.619 0.785 420.1 234)" font-size="13.1" font-weight="bold">PS10min@Ag</text>
<line x1="437.9" y1="201" x2="441.7" y2="201" stroke="#333" stroke-width="0.9" />
<text transform="matrix(1 0 -0.619 0.785 438.9 210)" font-size="13.1" font-weight="bold">PS5min@Ag</text>
<line x1="456.8" y1="177" x2="460.6" y2="177" stroke="#333" stroke-width="0.9" />
<text transform="matrix(1 0 -0.619 0.785 457.6 186)" font-size="13.1" font-weight="bold">PS0min@Ag</text>
<text x="104.5" y="360.6" font-size="18" font-weight="bold">Raman shift (cm<tspan dy="-6.6" dx="0.5" font-size="18">-1</tspan><tspan dy="6.6" dx="-0.6" font-size="18">)</tspan></text>
<text transform="translate(526.8 171.5) rotate(-90)" font-size="16.5" font-weight="bold" textLength="173" lengthAdjust="spacingAndGlyphs">Raman intensity (a.u.)</text>
<text x="33.6" y="39.6" font-size="22" font-weight="normal" text-anchor="middle" >(a)</text>
</g>
<g id="pb">
<rect x="639.5" y="304" width="59.3" height="4.5" fill="#1f5fd6" stroke="#333" stroke-width="0.7"/>
<rect x="701.5" y="240.3" width="59.1" height="68.2" fill="#3bae6c" stroke="#333" stroke-width="0.7"/>
<rect x="763.8" y="201.3" width="58.7" height="107.2" fill="#b279e0" stroke="#333" stroke-width="0.7"/>
<rect x="825.6" y="95.3" width="59.2" height="213.2" fill="#cb9a02" stroke="#333" stroke-width="0.7"/>
<rect x="888" y="53.5" width="58.8" height="255" fill="#00c9c9" stroke="#333" stroke-width="0.7"/>
<rect x="949.9" y="271.5" width="59.4" height="37" fill="#7d4f4f" stroke="#333" stroke-width="0.7"/>
<rect x="638.5" y="8.5" width="372.0" height="300.0" fill="none" stroke="#3c3c3c" stroke-width="1.2"/>
<line x1="633" y1="308.5" x2="638.5" y2="308.5" stroke="#3c3c3c" stroke-width="1.2" />
<text x="627.5" y="314.6" font-size="20" font-weight="normal" text-anchor="end" >0</text>
<line x1="635.5" y1="278.5" x2="638.5" y2="278.5" stroke="#3c3c3c" stroke-width="1.1" />
<line x1="633" y1="248.5" x2="638.5" y2="248.5" stroke="#3c3c3c" stroke-width="1.2" />
<text x="627.5" y="254.6" font-size="20" font-weight="normal" text-anchor="end" >4000</text>
<line x1="635.5" y1="218.5" x2="638.5" y2="218.5" stroke="#3c3c3c" stroke-width="1.1" />
<line x1="633" y1="188.5" x2="638.5" y2="188.5" stroke="#3c3c3c" stroke-width="1.2" />
<text x="627.5" y="194.6" font-size="20" font-weight="normal" text-anchor="end" >8000</text>
<line x1="635.5" y1="158.5" x2="638.5" y2="158.5" stroke="#3c3c3c" stroke-width="1.1" />
<line x1="633" y1="128.5" x2="638.5" y2="128.5" stroke="#3c3c3c" stroke-width="1.2" />
<text x="627.5" y="134.6" font-size="20" font-weight="normal" text-anchor="end" >12000</text>
<line x1="635.5" y1="98.5" x2="638.5" y2="98.5" stroke="#3c3c3c" stroke-width="1.1" />
<line x1="633" y1="68.5" x2="638.5" y2="68.5" stroke="#3c3c3c" stroke-width="1.2" />
<text x="627.5" y="74.6" font-size="20" font-weight="normal" text-anchor="end" >16000</text>
<line x1="635.5" y1="38.5" x2="638.5" y2="38.5" stroke="#3c3c3c" stroke-width="1.1" />
<line x1="633" y1="8.5" x2="638.5" y2="8.5" stroke="#3c3c3c" stroke-width="1.2" />
<text x="627.5" y="14.6" font-size="20" font-weight="normal" text-anchor="end" >20000</text>
<line x1="668.8" y1="308.5" x2="668.8" y2="314.5" stroke="#3c3c3c" stroke-width="1.2" />
<text x="668.8" y="334.3" font-size="20" font-weight="bold" text-anchor="middle" >0</text>
<line x1="731" y1="308.5" x2="731" y2="314.5" stroke="#3c3c3c" stroke-width="1.2" />
<text x="731" y="334.3" font-size="20" font-weight="bold" text-anchor="middle" >5</text>
<line x1="793.1" y1="308.5" x2="793.1" y2="314.5" stroke="#3c3c3c" stroke-width="1.2" />
<text x="793.1" y="334.3" font-size="20" font-weight="bold" text-anchor="middle" >10</text>
<line x1="855.2" y1="308.5" x2="855.2" y2="314.5" stroke="#3c3c3c" stroke-width="1.2" />
<text x="855.2" y="334.3" font-size="20" font-weight="bold" text-anchor="middle" >20</text>
<line x1="917.3" y1="308.5" x2="917.3" y2="314.5" stroke="#3c3c3c" stroke-width="1.2" />
<text x="917.3" y="334.3" font-size="20" font-weight="bold" text-anchor="middle" >40</text>
<line x1="979.4" y1="308.5" x2="979.4" y2="314.5" stroke="#3c3c3c" stroke-width="1.2" />
<text x="979.4" y="334.3" font-size="20" font-weight="bold" text-anchor="middle" >80</text>
<line x1="638.5" y1="308.5" x2="638.5" y2="311.5" stroke="#3c3c3c" stroke-width="1.1" />
<line x1="700" y1="308.5" x2="700" y2="311.5" stroke="#3c3c3c" stroke-width="1.1" />
<line x1="762.1" y1="308.5" x2="762.1" y2="311.5" stroke="#3c3c3c" stroke-width="1.1" />
<line x1="824.2" y1="308.5" x2="824.2" y2="311.5" stroke="#3c3c3c" stroke-width="1.1" />
<line x1="886.6" y1="308.5" x2="886.6" y2="311.5" stroke="#3c3c3c" stroke-width="1.1" />
<line x1="948.5" y1="308.5" x2="948.5" y2="311.5" stroke="#3c3c3c" stroke-width="1.1" />
<line x1="1010.5" y1="308.5" x2="1010.5" y2="311.5" stroke="#3c3c3c" stroke-width="1.1" />
<line x1="668.8" y1="303.7" x2="668.8" y2="304.3" stroke="#000" stroke-width="1.8" />
<line x1="665.2" y1="303.7" x2="672.4" y2="303.7" stroke="#000" stroke-width="1.8" />
<line x1="665.2" y1="304.3" x2="672.4" y2="304.3" stroke="#000" stroke-width="1.8" />
<line x1="731.2" y1="237.8" x2="731.2" y2="242.6" stroke="#000" stroke-width="1.8" />
<line x1="727.6" y1="237.8" x2="734.8" y2="237.8" stroke="#000" stroke-width="1.8" />
<line x1="727.6" y1="242.6" x2="734.8" y2="242.6" stroke="#000" stroke-width="1.8" />
<line x1="793.1" y1="196.3" x2="793.1" y2="205.8" stroke="#000" stroke-width="1.8" />
<line x1="789.5" y1="196.3" x2="796.7" y2="196.3" stroke="#000" stroke-width="1.8" />
<line x1="789.5" y1="205.8" x2="796.7" y2="205.8" stroke="#000" stroke-width="1.8" />
<line x1="855.2" y1="89.6" x2="855.2" y2="100.8" stroke="#000" stroke-width="1.8" />
<line x1="851.6" y1="89.6" x2="858.8" y2="89.6" stroke="#000" stroke-width="1.8" />
<line x1="851.6" y1="100.8" x2="858.8" y2="100.8" stroke="#000" stroke-width="1.8" />
<line x1="917.3" y1="48.2" x2="917.3" y2="59.3" stroke="#000" stroke-width="1.8" />
<line x1="913.7" y1="48.2" x2="920.9" y2="48.2" stroke="#000" stroke-width="1.8" />
<line x1="913.7" y1="59.3" x2="920.9" y2="59.3" stroke="#000" stroke-width="1.8" />
<line x1="979.3" y1="270.4" x2="979.3" y2="273" stroke="#000" stroke-width="1.8" />
<line x1="975.7" y1="270.4" x2="982.9" y2="270.4" stroke="#000" stroke-width="1.8" />
<line x1="975.7" y1="273" x2="982.9" y2="273" stroke="#000" stroke-width="1.8" />
<text x="806.3" y="360" font-size="20" font-weight="bold" text-anchor="middle" textLength="171.5" lengthAdjust="spacingAndGlyphs" >Etching time (min)</text>
<text transform="translate(563.6 261.6) rotate(-90)" font-size="20" font-weight="bold" textLength="207" lengthAdjust="spacingAndGlyphs">Raman intensity (a.u.)</text>
<text x="675.5" y="39.4" font-size="21.5" font-weight="normal" text-anchor="middle" >(b)</text>
</g>
<g id="pc">
<line x1="15" y1="509.9" x2="15" y2="674.4" stroke="#c4c4c4" stroke-width="1" />
<line x1="44.2" y1="473.3" x2="44.2" y2="637.6" stroke="#c4c4c4" stroke-width="1" />
<line x1="73.3" y1="436.8" x2="73.3" y2="601" stroke="#c4c4c4" stroke-width="1" />
<line x1="102.5" y1="400.2" x2="102.5" y2="564.2" stroke="#c4c4c4" stroke-width="1" />
<line x1="117" y1="382" x2="117" y2="546" stroke="#9a9a9a" stroke-width="1" />
<line x1="117" y1="546" x2="482" y2="546" stroke="#8c8c8c" stroke-width="0.8" />
<line x1="0" y1="692" x2="117" y2="546" stroke="#5a5a5a" stroke-width="0.8" />
<line x1="116.5" y1="382" x2="482" y2="382" stroke="#222" stroke-width="1.4" />
<line x1="1" y1="527.5" x2="117" y2="382" stroke="#111" stroke-width="1.5" />
<line x1="482" y1="382" x2="482" y2="546" stroke="#222" stroke-width="1.4" />
<line x1="365.3" y1="692" x2="482" y2="546" stroke="#111" stroke-width="1.4" />
<line x1="482" y1="537.5" x2="486" y2="537.5" stroke="#222" stroke-width="1.1" />
<line x1="482" y1="504.3" x2="486" y2="504.3" stroke="#222" stroke-width="1.1" />
<line x1="482" y1="471.1" x2="486" y2="471.1" stroke="#222" stroke-width="1.1" />
<line x1="482" y1="437.9" x2="486" y2="437.9" stroke="#222" stroke-width="1.1" />
<line x1="482" y1="404.7" x2="486" y2="404.7" stroke="#222" stroke-width="1.1" />
<line x1="482" y1="530.9" x2="484.2" y2="530.9" stroke="#222" stroke-width="0.9" />
<line x1="482" y1="524.2" x2="484.2" y2="524.2" stroke="#222" stroke-width="0.9" />
<line x1="482" y1="517.6" x2="484.2" y2="517.6" stroke="#222" stroke-width="0.9" />
<line x1="482" y1="510.9" x2="484.2" y2="510.9" stroke="#222" stroke-width="0.9" />
<line x1="482" y1="497.7" x2="484.2" y2="497.7" stroke="#222" stroke-width="0.9" />
<line x1="482" y1="491" x2="484.2" y2="491" stroke="#222" stroke-width="0.9" />
<line x1="482" y1="484.4" x2="484.2" y2="484.4" stroke="#222" stroke-width="0.9" />
<line x1="482" y1="477.7" x2="484.2" y2="477.7" stroke="#222" stroke-width="0.9" />
<line x1="482" y1="464.5" x2="484.2" y2="464.5" stroke="#222" stroke-width="0.9" />
<line x1="482" y1="457.8" x2="484.2" y2="457.8" stroke="#222" stroke-width="0.9" />
<line x1="482" y1="451.2" x2="484.2" y2="451.2" stroke="#222" stroke-width="0.9" />
<line x1="482" y1="444.5" x2="484.2" y2="444.5" stroke="#222" stroke-width="0.9" />
<line x1="482" y1="431.3" x2="484.2" y2="431.3" stroke="#222" stroke-width="0.9" />
<line x1="482" y1="424.6" x2="484.2" y2="424.6" stroke="#222" stroke-width="0.9" />
<line x1="482" y1="418" x2="484.2" y2="418" stroke="#222" stroke-width="0.9" />
<line x1="482" y1="411.3" x2="484.2" y2="411.3" stroke="#222" stroke-width="0.9" />
<line x1="482" y1="398.1" x2="484.2" y2="398.1" stroke="#222" stroke-width="0.9" />
<line x1="482" y1="391.4" x2="484.2" y2="391.4" stroke="#222" stroke-width="0.9" />
<line x1="482" y1="384.8" x2="484.2" y2="384.8" stroke="#222" stroke-width="0.9" />
<path d="M43.5 636.4L43.5 624L44.2 625.1L45 627L45.8 630.2L46.5 629.1L47.2 630.8L48 630.1L48.8 629.2L49.5 631.2L50.2 631.6L51 631.1L51.8 631.4L52.5 631.1L53.2 629.6L54 630L54.8 627.3L55.5 629.1L56.2 627L57 626.8L57.8 626.5L58.5 628.1L59.2 626.2L60 621.6L60.8 617.8L61.5 607.3L62.2 597.7L63 573L63.8 539.5L64.5 501.1L65 493.3L66 524.8L66.8 562.9L67.5 590.1L68.2 604.1L69 612.8L69.8 620.9L70.5 624.2L71.2 627.5L72 627.6L72.8 628.6L73.5 627.8L74.2 627.7L75 628.4L75.8 628.8L76.5 627.6L77.2 628.5L78 627.2L78.8 628.1L79.5 629.8L80.2 629L81 626.4L81.8 625.9L82.5 622.5L83.2 619.9L84 620.5L84.8 622.8L85.5 626.1L86.2 628.8L87 630.4L87.8 629.2L88.5 627.8L89.2 631.9L90 628.1L90.8 631.2L91.5 630L92.2 628.7L93 625.9L93.8 626.6L94.5 622.4L95.2 618.4L96 611.7L96.8 602.8L97.5 590.5L98.1 585.6L99 594.7L99.8 607.8L100.5 616.8L101.2 624.4L102 626L102.8 626.4L103.5 626L104.2 625.4L105 628.2L105.8 628.9L106.5 629.9L107.2 627.2L108 629.8L108.8 629.2L109.5 627.6L110.2 626.4L111 620.9L111.8 618.8L112.5 617.3L113.2 615.5L114 619.5L114.8 620.8L115.5 622.6L116.2 624.4L117 625L117.8 625.5L118.5 628.3L119.2 626.9L120 629.2L120.8 629.5L121.5 630.4L122.2 628.9L123 627.8L123.8 627.5L124.5 626.3L125.2 625.9L126 627.8L126.8 629.6L127.5 628.8L128.2 631.1L129 630.5L129.8 630.9L130.5 630.8L131.2 630.5L132 630.8L132.8 631.8L133.5 630.6L134.2 628.8L135 632L135.8 630.8L136.5 629.9L137.2 629.8L138 630.2L138.8 631L139.5 628.4L140.2 629.5L141 628.1L141.8 627.9L142.5 630.1L143.2 629L144 628.6L144.8 629.8L145.5 630.3L146.2 630.6L147 629.8L147.8 630L148.5 628.6L149.2 631.6L150 629.9L150.8 630.1L151.5 627.7L152.2 626.8L153 625.4L153.8 623.6L154.5 622.7L155.2 622L156 619.3L156.8 620.4L157.5 622L158.2 626.1L159 626.6L159.8 628.8L160.5 628.3L161.2 629.6L162 629.2L162.8 629.2L163.5 630.5L164.2 631.1L165 629.6L165.8 630.1L166.5 631.2L167.2 631.3L168 630.1L168.8 632.2L169.5 632.1L170.2 629.5L171 628L171.8 629.5L172.5 630L173.2 628.4L174 630L174.8 628.4L175.5 626.3L176.2 626.9L177 624.8L177.8 623.1L178.5 624.1L179.2 621.9L180 624.8L180.8 625.7L181.5 626.9L182.2 629.7L183 628.8L183.8 629.6L184.5 630.4L185.2 629.6L186 631.4L186.8 631.6L187.5 630.8L188.2 632.2L189 627L189.8 628.9L190.5 628.8L191.2 630.3L192 629.3L192.8 628.3L193.5 629L194.2 625.4L195 625L195.8 622.2L196.5 620.6L197.2 617.6L198 615.1L198.8 615.5L199.5 618.4L200.2 622.5L201 624.2L201.8 626.8L202.5 627.3L203.2 628.5L204 629.4L204.8 630.5L205.5 632.4L206.2 629.4L207 630.8L207.8 630.3L208.5 630.1L209.2 630.8L210 628.6L210.8 627.9L211.5 629.2L212.2 625.9L213 626.8L213.8 622.9L214.5 625.7L215.2 627.6L216 630.7L216.8 630.7L217.5 628.3L218.2 629.8L219 629.7L219.8 628.1L220.5 627.3L221.2 627.4L222 628.2L222.8 626.5L223.5 625.4L224.2 623.8L225 622.4L225.8 615.1L226.5 610.3L227.2 602.9L228 597.8L228.8 598.7L229.5 604.9L230.2 604L231 604L231.8 595.9L232.5 589.4L233.2 578.8L233.7 581L234.8 589.5L235.5 601L236.2 612.3L237 617.9L237.8 620.8L238.5 623.6L239.2 625L240 624.8L240.8 626.3L241.5 626.6L242.2 629.1L243 628.1L243.8 629L244.5 629.3L245.2 628.4L246 628.5L246.8 627.2L247.5 628L248.2 627.2L249 627.3L249.8 624.6L250.5 625.1L251.2 620.4L252 618L252.8 613.6L253.5 607.8L254.2 597.6L255 583.1L255.8 569.9L256.5 556.7L256.9 555.7L257.2 553.9L258 568.4L258.8 583.7L259.5 596.5L260.2 606L261 615.4L261.8 617.5L262.5 622.2L263.2 624.3L264 623.4L264.8 625.2L265.5 626.2L266.2 626.7L267 627L267.8 628.8L268.5 627L269.2 626.7L270 627.4L270.8 625.5L271.5 626.2L272.2 622.7L273 622.6L273.8 619.2L274.5 618.1L275.2 612.4L276 608.4L276.8 600.9L277.5 588.3L278.2 572.1L279 549.8L279.8 526.4L280.5 516.9L281.2 528.3L282 547.5L282.8 571L283.5 587.8L284.2 598.4L285 608.5L285.8 612.1L286.5 614.5L287.2 619.3L288 620.6L288.8 624.4L289.5 625.1L290.2 626.3L291 626.4L291.8 627.5L292.5 628.3L293.2 627.5L294 628.4L294.8 627.9L295.5 626.8L296.2 627.3L297 627.3L297.8 625.7L298.5 623.8L299.2 620.1L300 617.3L300.8 613.1L301.7 609L302.2 606.7L303 612.5L303.8 620.1L304.5 622.6L305.2 623.5L306 625.5L306.8 623.4L307.5 625.8L308.2 624.2L309 626.1L309.8 626.4L310.5 627.7L311.2 628L312 626.9L312.8 626.2L313.5 624.8L314.2 628.1L315 624.5L315.8 625.4L316.5 622.4L317.2 619.8L318 618.3L318.8 616.9L319.5 611.6L320.2 603.7L321 593.1L321.8 577.8L322.5 557.6L323.2 539.3L323.9 530.6L324.8 533.8L325.5 545.6L326.2 556.8L327 552.5L327.8 540.5L328.5 528.9L329.2 525.3L330 536.2L330.8 560.1L331.5 578.9L332.2 595L333 603L333.8 611.6L334.5 617L335.2 619.5L336 621.3L336.8 623.4L337.5 625.7L338.2 628.7L339 627.6L339.8 626.2L340.5 626.5L341.2 627.4L342 628L342.8 628.5L343.5 628.4L344.2 630.4L345 630.8L345.8 629.1L346.5 630.2L347.2 628.6L348 626.3L348.8 626.5L349.5 626.7L350.2 626L351 626.4L351.8 625.6L352.5 627.1L353.2 629.2L354 627.8L354.8 625.9L355.5 624.6L356.2 623.1L357 622.2L357.8 622.6L358.5 617.9L359.2 616.9L360 608.5L360.8 600.4L361.5 585.3L362.2 566.4L363 542.3L363.8 518.1L364.5 507.2L365.2 516.5L366 541.9L366.8 566.6L367.5 586.2L368.2 598.1L369 608.8L369.8 615.5L370.5 618.1L371.2 620.3L372 621.9L372.8 626.4L373.5 624.9L374.2 626.2L375 627.8L375.8 629.6L376.5 628.7L377.2 627.4L378 630.1L378.8 630.2L379.5 629.1L380.2 628.8L381 629.6L381.8 631L382.5 628.5L383.2 630.8L384 631L384.8 630.7L385.5 631.1L386.2 631.6L387 631.8L387.8 631.4L388.5 628.8L389.2 630L390 630.4L390.8 629.6L391.5 631.1L392.2 630.6L393 629.7L393.8 630.7L394.5 632.5L395.2 632.3L396 630.2L396.8 632.3L397.5 632L398.2 630.5L399 630L399.8 631.7L400.5 631.2L401.2 632.2L402 629.4L402.8 631.8L403.5 629.3L404.2 629.8L405 631.4L405.8 630.7L406.5 630.3L407.2 630.4L408 630.4L408.8 631.5L409.5 631L410.2 631.6L410.5 636.4" fill="none" stroke="#00ff00" stroke-width="3.6" stroke-linejoin="miter" stroke-miterlimit="2.5" stroke-linecap="butt"/>
<path d="M72.9 600.3L72.9 588L73.7 589.7L74.4 590.4L75.2 590.7L75.9 593.7L76.7 594.1L77.4 592.4L78.2 593.9L78.9 595.1L79.7 593.3L80.4 594.5L81.2 594L81.9 592.9L82.7 595L83.4 594.9L84.2 593.3L84.9 593.7L85.7 592.3L86.4 593.1L87.2 592.9L87.9 589L88.7 589.5L89.4 587L90.2 584.9L90.9 578.3L91.7 568.3L92.4 553.1L93.2 525.2L93.9 496.1L94.5 484.4L95.4 507.6L96.2 535.7L96.9 559.9L97.7 574.2L98.4 580.4L99.2 586.9L99.9 588.4L100.7 592.5L101.4 592.5L102.2 591.9L102.9 592L103.7 593.3L104.4 593.8L105.2 594.4L105.9 595.5L106.7 594.9L107.4 594.2L108.2 592.6L108.9 593L109.7 594.9L110.4 592.1L111.2 591.7L111.9 591.1L112.7 588.9L113.4 588.2L114.2 589.7L114.9 593.1L115.7 593.1L116.4 592.8L117.2 592.6L117.9 593.9L118.7 593.7L119.4 594.3L120.2 594.4L120.9 592.2L121.7 591.6L122.4 592.4L123.2 590.6L123.9 589.5L124.7 587.2L125.4 581.2L126.2 572.5L126.9 564L127.6 557.8L128.4 568.9L129.2 575.6L129.9 583.9L130.7 588.9L131.4 590.9L132.2 593.6L132.9 592.4L133.7 592L134.4 590.9L135.2 593.5L135.9 594.1L136.7 593.6L137.4 592.1L138.2 592L138.9 591.3L139.7 588.8L140.4 586.9L141.2 582L141.9 581.1L142.7 580.6L143.4 583L144.2 587.3L144.9 587.8L145.7 589.1L146.4 590.2L147.2 591.5L147.9 593.3L148.7 593.1L149.4 593L150.2 593.7L150.9 592.9L151.7 592.4L152.4 590.6L153.2 591.8L153.9 590.8L154.7 591.2L155.4 593L156.2 591.5L156.9 592.1L157.7 590L158.4 593L159.2 593.3L159.9 594.5L160.7 595.5L161.4 593.6L162.2 593.9L162.9 593.5L163.7 595.1L164.4 592.6L165.2 595.6L165.9 593.5L166.7 591.8L167.4 594.6L168.2 594.6L168.9 593.9L169.7 594L170.4 594.1L171.2 592.1L171.9 593.6L172.7 592.5L173.4 594.4L174.2 592.5L174.9 595.2L175.7 594.8L176.4 593.9L177.2 595.3L177.9 593.8L178.7 592.7L179.4 595.9L180.2 593.8L180.9 593.4L181.7 592.2L182.4 593.5L183.2 592.2L183.9 587.9L184.7 585.4L185.4 583.7L186.2 583.9L186.9 586.8L187.7 588.3L188.4 591.2L189.2 593.5L189.9 591.6L190.7 593.3L191.4 594.9L192.2 592.4L192.9 594.3L193.7 592.8L194.4 592.1L195.2 594.6L195.9 593.1L196.7 593.6L197.4 592.9L198.2 592.4L198.9 594.7L199.7 595.3L200.4 595.3L201.2 595.3L201.9 594.5L202.7 593.7L203.4 593.4L204.2 592L204.9 592.6L205.7 589.7L206.4 589.9L207.2 586L207.9 587.8L208.7 589.2L209.4 591.2L210.2 591.4L210.9 593L211.7 592.4L212.4 592.9L213.2 593.1L213.9 593.8L214.7 594.6L215.4 594.2L216.2 593L216.9 594.2L217.7 595.7L218.4 594L219.2 593.7L219.9 594.8L220.7 593.2L221.4 593.3L222.2 593.8L222.9 592L223.7 591L224.4 589.3L225.2 587.7L225.9 588.1L226.7 585.2L227.4 581.7L228.2 581.8L228.9 583.7L229.7 582.7L230.4 588.1L231.2 589.7L231.9 591.4L232.7 592.2L233.4 594.2L234.2 592.9L234.9 594.8L235.7 593.6L236.4 594L237.2 593.1L237.9 591.3L238.7 594.6L239.4 592L240.2 593.3L240.9 590.9L241.7 587.4L242.4 586.7L243.2 587.2L243.9 588.3L244.7 589.2L245.4 592.5L246.2 592.2L246.9 592.9L247.7 594L248.4 590.9L249.2 592L249.9 594.8L250.7 592.5L251.4 592.8L252.2 590.8L252.9 591.4L253.7 589.5L254.4 586.1L255.2 582.2L255.9 579.1L256.6 572.5L257.5 568L258.1 568.6L258.9 569.2L259.6 572.3L260.4 572.8L261.1 565.8L261.9 556.3L262.6 549L263.2 549.2L264.1 555.7L264.9 564.6L265.6 575.9L266.4 581.1L267.1 585.2L267.9 589.6L268.6 590.1L269.4 594.3L270.1 592.1L270.9 591.4L271.6 592.5L272.4 590.3L273.1 593.1L273.9 592.9L274.6 592.3L275.4 590.3L276.1 592.8L276.9 589.8L277.6 590.5L278.4 590.9L279.1 588.7L279.9 587.8L280.6 586.7L281.4 583.1L282.1 579.8L282.9 573.9L283.6 564.7L284.4 552.4L285.1 541.9L285.9 527.1L286.4 528.7L287.4 536.8L288.1 549.8L288.9 562.3L289.6 572.7L290.4 578.6L291.1 583L291.9 586L292.6 586.4L293.4 587.7L294.1 589.7L294.9 588.9L295.6 590.4L296.4 590.3L297.1 590.8L297.9 592.3L298.6 592.2L299.4 590.5L300.1 590.1L300.9 590.2L301.6 589.1L302.4 586.5L303.1 586.6L303.9 583.2L304.6 580.8L305.4 576.3L306.1 568.1L306.9 558.2L307.6 543.6L308.4 523.5L309.1 504.9L310 493.1L310.6 500.7L311.4 518.5L312.1 539.2L312.9 554.6L313.6 565.5L314.4 573.9L315.1 576.2L315.9 582.6L316.6 585.5L317.4 585.3L318.1 587.3L318.9 588.5L319.6 589.2L320.4 590.2L321.1 591.7L321.9 591.4L322.6 592L323.4 590.5L324.1 592.3L324.9 593L325.6 592.3L326.4 591.9L327.1 592.9L327.9 592.3L328.6 589.7L329.4 586.9L330.1 583.5L330.9 579.6L331.6 579.4L332.4 584.2L333.1 587.8L333.9 589.6L334.6 590.6L335.4 590.7L336.1 589.7L336.9 590L337.6 590.9L338.4 591.2L339.1 591.9L339.9 591.5L340.6 592L341.4 591.5L342.1 592.6L342.9 591.5L343.6 589.6L344.4 590.3L345.1 589.2L345.9 588.2L346.6 587.8L347.4 585.8L348.1 583.6L348.9 579.6L349.6 575.1L350.4 565.7L351.1 552.6L351.9 535.8L352.6 519.6L353.4 508.8L354.1 515.3L354.9 523.7L355.6 530.7L356.4 528.1L357.1 523.1L357.9 512.2L358.7 507.5L359.4 518.1L360.1 533.6L360.9 551.2L361.6 563.1L362.4 571.9L363.1 576.1L363.9 581L364.6 585.3L365.4 587.8L366.1 587.6L366.9 590.5L367.6 588.3L368.4 589.3L369.1 591.3L369.9 593L370.6 590.1L371.4 591.9L372.1 590.7L372.9 593.2L373.6 592L374.4 591.1L375.1 590.7L375.9 590.8L376.6 589L377.4 589.5L378.1 588.2L378.9 587.9L379.6 588.4L380.4 589.1L381.1 591.7L381.9 592.2L382.6 589.5L383.4 590.5L384.1 591.1L384.9 588.3L385.6 588.4L386.4 586.2L387.1 585.2L387.9 580.9L388.6 577.5L389.4 575L390.1 566.1L390.9 555.2L391.6 538.5L392.4 520.4L393.1 497.2L394 485.1L394.6 495.3L395.4 514.8L396.1 537.5L396.9 552.9L397.6 564.9L398.4 572.3L399.1 579.4L399.9 581.2L400.6 587.2L401.4 589.3L402.1 588.5L402.9 589.5L403.6 591.6L404.4 594.2L405.1 592.7L405.9 594.9L406.6 592.8L407.4 592.8L408.1 594.5L408.9 594.5L409.6 594.7L410.4 593.9L411.1 593L411.9 594.5L412.6 593.1L413.4 594.7L414.1 595.3L414.9 594.7L415.6 596L416.4 595.4L417.1 595.7L417.9 592.7L418.6 594.3L419.4 595.1L420.1 593.9L420.9 594.3L421.6 594L422.4 593.4L423.1 593.1L423.9 594.5L424.6 594.4L425.4 594.2L426.1 596.2L426.9 595.5L427.6 592.5L428.4 592.6L429.1 594.2L429.9 593.5L430.6 594.1L431.4 591.6L432.1 593.6L432.9 595.1L433.6 596L434.4 596.5L435.1 595.1L435.9 596L436.6 597.4L437.4 596.9L438.1 597L438.9 593.9L439.6 594.6L439.8 600.3" fill="none" stroke="#ff0000" stroke-width="3.6" stroke-linejoin="miter" stroke-miterlimit="2.5" stroke-linecap="butt"/>
<path d="M14 673.9L14 660L14.8 660.9L15.5 664.3L16.2 664.6L17 668.3L17.8 667.5L18.5 664.8L19.2 666.6L20 666L20.8 665.7L21.5 666.9L22.2 666.6L23 665.9L23.8 665.1L24.5 666.6L25.2 664.8L26 664.7L26.8 663.9L27.5 664.9L28.2 664.5L29 661.6L29.8 659.8L30.5 656.5L31.2 649.9L32 642.6L32.8 630L33.5 606.1L34.2 571.3L35 529.5L35.6 510.7L36.5 544.8L37.2 588L38 619.5L38.8 637.8L39.5 649.6L40.2 653.9L41 658.9L41.8 661.2L42.5 662.3L43.2 663.6L44 663.3L44.8 664.4L45.5 665.2L46.2 666.1L47 665.2L47.8 665.5L48.5 665.8L49.2 665.1L50 665.1L50.8 663.6L51.5 664.4L52.2 661.3L53 658L53.8 656.3L54.5 656.1L55.2 660.7L56 660.6L56.8 663.1L57.5 662.6L58.2 666.5L59 666L59.8 667.2L60.5 665.9L61.2 667L62 664.8L62.8 666.6L63.5 663.8L64.2 662.9L65 662L65.8 656.9L66.5 651.4L67.2 638L68 623.3L68.7 617.3L69.5 626.5L70.2 638.9L71 649L71.8 657.2L72.5 660.7L73.2 664L74 665.3L74.8 665L75.5 666.5L76.2 665.1L77 665.2L77.8 665.2L78.5 665.5L79.2 664.5L80 664.6L80.8 661L81.5 657.7L82.2 657.5L83 652.3L83.8 652.6L84.5 656.6L85.2 656.2L86 658.9L86.8 658.6L87.5 657.9L88.2 658.8L89 662.9L89.8 665.2L90.5 664.8L91.2 667.1L92 665.5L92.8 665.3L93.5 664.3L94.2 665.1L95 664L95.8 664L96.5 664.5L97.2 663.9L98 667.9L98.8 667.6L99.5 666.9L100.2 668.6L101 669.3L101.8 671.1L102.5 669.8L103.2 669L104 668.5L104.8 667.8L105.5 667.8L106.2 666.4L107 665.9L107.8 667.1L108.5 666.6L109.2 668.2L110 667.8L110.8 667L111.5 661.6L112.2 664.4L113 666.1L113.8 666.9L114.5 667.2L115.2 667.8L116 666.2L116.8 667.3L117.5 667.5L118.2 667.9L119 667.2L119.8 667.4L120.5 668.1L121.2 666.3L122 665.5L122.8 664.5L123.5 663.9L124.2 662L125 661.3L125.8 656.8L126.5 654L127.2 654L128 657.7L128.8 658.5L129.5 664.2L130.2 664.4L131 666.5L131.8 667.4L132.5 667.7L133.2 667.5L134 667.7L134.8 666.3L135.5 667.3L136.2 667.4L137 666.5L137.8 668L138.5 665.9L139.2 665.6L140 667.7L140.8 668.8L141.5 666.4L142.2 665.8L143 667.6L143.8 668.8L144.5 666.4L145.2 666.9L146 665.6L146.8 664.3L147.5 665L148.2 662.6L149 663L149.8 660.9L150.5 661.3L151.2 662.1L152 664.5L152.8 663.2L153.5 665.3L154.2 665.9L155 667.6L155.8 668.9L156.5 665.5L157.2 666.4L158 669.7L158.8 665.9L159.5 668.3L160.2 667.8L161 666.8L161.8 667.5L162.5 666.4L163.2 667.3L164 664.1L164.8 664.7L165.5 662.9L166.2 659.9L167 657.7L167.8 653.3L168.5 649.9L168.9 648.4L169.2 650.9L170 654.5L170.8 656.3L171.5 661.3L172.2 662.9L173 663.6L173.8 663.5L174.5 664.7L175.2 666.8L176 663.5L176.8 667.9L177.5 666L178.2 667.5L179 667.9L179.8 666.8L180.5 666.3L181.2 663.6L182 663.9L182.8 663.8L183.5 661L184.2 661L185 661.7L185.8 663.9L186.5 665L187.2 667L188 666.5L188.8 669.8L189.5 666.6L190.2 665.4L191 667.5L191.8 667.7L192.5 662.7L193.2 661.7L194 660.9L194.8 660L195.5 656.3L196.2 651L197 645.2L197.8 635.7L198.6 629.6L199.2 633.2L200 634.6L200.8 636.5L201.5 635.7L202.2 628.6L203 618.1L203.8 607.7L204.3 603.9L205.2 613.1L206 627.3L206.8 639.8L207.5 648.3L208.2 655.6L209 659.8L209.8 660.9L210.5 660.9L211.2 664.4L212 664L212.8 666.3L213.5 667.2L214.2 664.7L215 666.1L215.8 664.6L216.5 665.9L217.2 664L218 663.9L218.8 661.8L219.5 663L220.2 662.3L221 659.3L221.8 658.1L222.5 651.8L223.2 647.4L224 640L224.8 626L225.5 610L226.2 587.9L227 572.5L227.5 568.7L228.5 581.1L229.2 602.6L230 622L230.8 634.6L231.5 646.2L232.2 649.3L233 652.7L233.8 658.5L234.5 660.2L235.2 660.2L236 662.2L236.8 662L237.5 663.4L238.2 663.9L239 664.8L239.8 663.3L240.5 661.8L241.2 662.6L242 662.1L242.8 659.4L243.5 660.6L244.2 658.3L245 656.7L245.8 652.7L246.5 647.3L247.2 638.8L248 626.9L248.8 608.5L249.5 586.4L250.2 564.4L251.1 550L251.8 557.1L252.5 579.5L253.2 602.5L254 620.7L254.8 632.2L255.5 641.5L256.2 645.9L257.1 648.1L257.8 652.1L258.5 653.6L259.2 659.1L260 660.6L260.8 660.8L261.5 662.1L262.2 663.8L263 663.3L263.8 663.8L264.5 665.2L265.2 665.4L266 665.9L266.8 665.5L267.5 665.7L268.2 663L269 660.9L269.8 658.2L270.5 652.9L271.2 645.4L272.3 637.3L272.8 640.4L273.5 648.6L274.2 654.6L275 660L275.8 661.1L276.5 662.8L277.2 663.5L278 663.5L278.8 661.6L279.5 663.8L280.2 664.8L281 665.7L281.8 664L282.5 665.5L283.2 666.3L284 665.5L284.8 661.9L285.5 661.8L286.2 662.4L287 660.8L287.8 658.9L288.5 656.4L289.2 654.3L290 651.1L290.8 639.6L291.5 629.4L292.2 612.3L293 591.8L293.8 570.3L294.5 554L295.2 560.6L296 576.2L296.8 586.6L297.5 586.6L298.2 575.4L299 562L299.8 556.9L300.5 568.1L301.2 588.2L302 612L302.8 629.4L303.5 640.2L304.2 649.9L305 653.8L305.8 656.8L306.5 657.9L307.2 661.3L308 660.6L308.8 662.1L309.5 663.2L310.2 663.7L311 663L311.8 664.2L312.5 665.8L313.2 664.7L314 665.3L314.8 665.9L315.5 662.6L316.2 663.4L317 664.9L317.8 661.5L318.5 661.6L319.2 659.8L320 659.6L320.8 660.3L321.5 661.9L322.2 661.4L323 663.3L323.8 661.9L324.5 660.6L325.2 662.8L326 663.7L326.8 661.6L327.5 658.2L328.2 656.8L329 652.3L329.8 647.1L330.5 639.1L331.2 629.3L332 613.4L332.8 590.4L333.5 562.1L334.2 532L335.1 515.1L335.8 523.7L336.5 552.7L337.2 585.4L338 609.2L338.8 626.5L339.5 640.2L340.2 644.2L341 652.1L341.8 655.2L342.5 658.5L343.2 661.6L344 662.2L344.8 662.8L345.5 662.2L346.2 665L347 663.9L347.8 665.4L348.5 667.7L349.2 666.4L350 667L350.8 667.4L351.5 667.2L352.2 666.7L353 666.4L353.8 664.5L354.5 667.6L355.2 668.3L356 666.4L356.8 668.5L357.5 668.5L358.2 667.8L359 668.8L359.8 667.7L360.5 666.9L361.2 667.7L362 668.8L362.8 668.7L363.5 668.3L364.2 668.8L365 667.9L365.8 666.8L366.5 668L367.2 667.7L368 666.6L368.8 667.2L369.5 667.5L370.2 669.1L371 668L371.8 669.6L372.5 669.2L373.2 668.1L374 667.9L374.8 668.6L375.5 667.3L376.2 667.7L377 667.8L377.8 666.2L378.5 667.4L379.2 665.8L380 667.8L380.8 667.7L381 673.9" fill="none" stroke="#0000ff" stroke-width="3.6" stroke-linejoin="miter" stroke-miterlimit="2.5" stroke-linecap="butt"/>
<path d="M101.3 563.1L101.3 547.7L102 547.7L102.8 549.8L103.5 553.7L104.3 554.8L105 556.6L105.8 555.8L106.5 554.9L107.3 555.5L108 556.7L108.8 556.6L109.5 555.9L110.3 557.1L111 555.8L111.8 553.9L112.5 553.7L113.3 551.6L114 554.6L114.8 555.8L115.5 555.6L116.3 554.8L117 553.9L117.8 550.1L118.5 550.7L119.3 547.1L120 540.6L120.8 531.7L121.5 514.4L122.3 489.7L123 465.8L123.4 464.6L123.8 467.1L124.5 492.5L125.3 516.3L126 532.6L126.8 539.8L127.5 548.6L128.3 548.3L129.1 552.2L129.8 551.7L130.6 552.8L131.3 553.6L132.1 554.6L132.8 553.3L133.6 556.3L134.3 556.6L135.1 557.1L135.8 555.5L136.6 557.9L137.3 555.5L138.1 556.3L138.8 556.2L139.6 555.9L140.3 554.8L141.1 553.9L141.8 551.5L142.6 552.3L143.3 553.1L144.1 555.8L144.8 556L145.6 556.4L146.3 555.5L147.1 556L147.8 556.3L148.6 558.1L149.3 556.3L150.1 556.4L150.8 556.8L151.6 555.9L152.3 556.1L153.1 553.6L153.8 549.4L154.6 542.7L155.3 538.3L156.1 529L156.5 528.2L157.6 535.8L158.3 544.6L159.1 548.8L159.8 551.2L160.6 553.4L161.3 555L162.1 553.8L162.8 555L163.6 554.4L164.3 558.1L165.1 553.9L165.8 556.7L166.6 557.2L167.3 555.2L168.1 555.3L168.8 552.5L169.6 551.4L170.3 548.4L171.1 548.6L171.8 548.2L172.6 550L173.3 552L174.1 551.8L174.8 553.4L175.6 554.6L176.3 557.3L177.1 555.4L177.8 554.2L178.6 556.1L179.3 555.7L180.1 558.3L180.8 556.5L181.6 557L182.3 554.8L183.1 555L183.8 554.8L184.6 556L185.3 555.8L186.1 558L186.8 557L187.6 557.2L188.3 557.6L189.1 557.2L189.8 558.4L190.6 557.9L191.3 556.5L192.1 559.4L192.8 557.7L193.6 558L194.3 557.5L195.1 556.2L195.8 558.8L196.6 556.9L197.3 557.3L198.1 558.1L198.8 556.7L199.6 556L200.3 556.9L201.1 555.8L201.8 557.2L202.6 557.1L203.3 559L204.1 557.7L204.8 556.3L205.6 558L206.3 557.1L207.1 558L207.8 556.4L208.6 556.4L209.3 557.1L210.1 556.3L210.8 555.4L211.6 554.9L212.3 552L213.1 549.1L213.8 551.1L214.6 550.2L215.3 548.2L216.1 552.6L216.8 554.7L217.6 552.3L218.3 555.3L219.1 556.1L219.8 557.1L220.6 556L221.3 558.1L222.1 555.7L222.8 557.1L223.6 557.2L224.3 558L225.1 557.5L225.8 556.5L226.6 554.9L227.3 556.2L228.1 556.7L228.8 557.2L229.6 556.3L230.3 557.3L231.1 556.9L231.8 555.8L232.6 556.3L233.3 557L234.1 557.7L234.8 555L235.6 555L236.3 553.6L237.1 553.8L237.8 554.2L238.6 553.2L239.3 553.6L240.1 557.1L240.8 557.4L241.6 556.4L242.3 557.2L243.1 557.2L243.8 556.6L244.6 555.4L245.3 558.1L246.1 557L246.8 557.1L247.6 556.9L248.3 558.3L249.1 556.8L249.8 556.9L250.6 554.6L251.3 555.6L252.1 556.2L252.8 556.1L253.6 554L254.3 553.4L255.1 551.2L255.8 548.6L256.6 547.9L257.3 548.3L258.1 548.4L258.8 551.5L259.6 550.7L260.3 554.1L261.1 555.1L261.8 557L262.6 557.2L263.3 555L264.1 555.7L264.8 556.3L265.6 556.8L266.3 557.1L267.1 556.7L267.8 555.8L268.6 558.7L269.3 555.4L270.1 557.9L270.8 554.4L271.6 554.1L272.3 552.8L273.1 554.7L273.8 553.1L274.6 554.3L275.3 555L276.1 556.4L276.8 556.7L277.6 555.5L278.3 555.5L279.1 555.2L279.8 556.3L280.6 555.6L281.3 554.5L282.1 553.6L282.8 552.3L283.6 548.8L284.3 544.7L285.1 540.3L285.8 535.7L286.4 534L287.3 533.9L288.1 536.5L288.8 538.6L289.6 535.2L290.3 530.5L291.1 524.5L292.1 520L292.6 521.9L293.3 527.8L294.1 537.3L294.8 543.9L295.6 548.9L296.3 549.6L297.1 554.4L297.8 553.9L298.6 554.3L299.3 554.5L300.1 555.4L300.8 557.1L301.6 556.9L302.3 557.9L303.1 559.1L303.8 559.3L304.6 557L305.3 555.5L306.1 556.9L306.8 554.9L307.6 554.9L308.3 555.8L309.1 554.2L309.8 552.1L310.6 548.4L311.3 545L312.1 541L312.8 529L313.6 518.9L314.3 507.9L315.3 499.6L315.8 501.2L316.6 510.7L317.3 523.1L318.1 533.4L318.8 541.9L319.6 545.8L320.3 551.3L321.1 552.4L321.8 553.5L322.6 556.7L323.3 555.7L324.1 554.6L324.8 556L325.6 556.1L326.3 556L327.1 558.7L327.8 558L328.6 556.8L329.3 556.5L330.1 555.1L330.8 553.2L331.6 554.3L332.3 552.3L333.1 550.9L333.8 549.8L334.6 544.1L335.3 536.7L336.1 527.3L336.8 512.3L337.6 495.6L338.3 482.4L338.9 475.9L339.8 486.9L340.6 503.1L341.3 519.5L342.1 532.2L342.8 539.5L343.6 546.1L344.3 546.9L345.1 548.8L345.8 551.2L346.6 553.9L347.3 554.1L348.1 557.8L348.8 555.5L349.6 555.6L350.3 557.3L351.1 559.1L351.8 557.8L352.6 558.5L353.3 559.3L354.1 559.3L354.8 557.7L355.6 557.3L356.3 559.2L357.1 552.6L357.8 554.7L358.6 549.9L359.3 547.2L360.1 544L360.8 545.1L361.6 551L362.3 553.9L363.1 554.3L363.8 555L364.6 555L365.3 554.8L366.1 555L366.8 554L367.6 555.7L368.3 556.2L369.1 555.3L369.8 556.4L370.6 556.3L371.3 557.4L372.1 554L372.8 554.5L373.6 555.6L374.3 551.8L375.1 552.9L375.8 552.2L376.6 550.8L377.3 548.2L378.1 547.5L378.8 540.4L379.6 534.4L380.3 524.5L381.1 510.1L381.8 498.5L382.3 494.3L383.3 496.2L384.1 505.6L384.8 506.3L385.6 502.2L386.3 492.3L387.1 482.3L387.6 478.8L388.6 492.2L389.3 510.8L390.1 523.7L390.8 533L391.6 539.7L392.3 544.9L393.1 550.6L393.8 550L394.6 552.4L395.3 553.7L396.1 554.1L396.8 554.3L397.6 555.1L398.3 556.3L399.1 556.9L399.8 556.3L400.6 554.4L401.3 555.4L402.1 556.1L402.8 557.8L403.6 557.1L404.3 554.7L405.1 553.9L405.8 554.5L406.6 552.9L407.3 553.2L408.1 553.2L408.8 552.6L409.6 555.1L410.3 556.2L411.1 557.2L411.8 555.8L412.6 555.4L413.3 553.1L414.1 555.1L414.8 554.3L415.6 551.5L416.3 549.9L417.1 547.3L417.8 543.4L418.6 539.3L419.3 532.2L420.1 521.4L420.8 508.6L421.6 488.5L422.3 472.1L422.9 468.5L423.8 476.1L424.6 495.7L425.3 516.6L426.1 526.8L426.8 536.2L427.6 543.4L428.3 545.8L429.1 549.5L429.8 550.2L430.6 553.6L431.3 555.2L432.1 552.6L432.8 554.8L433.6 554.4L434.3 554.3L435.1 555.3L435.8 556.1L436.6 555.6L437.3 554.4L438.1 556.3L438.8 556.5L439.6 557L440.3 556L441.1 557.3L441.8 556.3L442.6 555.6L443.3 555.5L444.1 556.3L444.8 556.8L445.6 555.2L446.3 557.1L447.1 556.8L447.8 559L448.6 556.6L449.3 556.3L450.1 556.1L450.8 558L451.6 555.6L452.3 556.8L453.1 558.7L453.8 556.9L454.6 557.3L455.3 555.8L456.1 556.9L456.8 557.7L457.6 556.7L458.3 557.2L459.1 558.7L459.8 558L460.6 557.6L461.3 558.6L462.1 556.8L462.8 559L463.6 558.8L464.3 558.6L465.1 557.4L465.8 556.1L466.6 557.4L467.3 557.5L468.1 556.1L468.5 563.1" fill="none" stroke="#000000" stroke-width="3.6" stroke-linejoin="miter" stroke-miterlimit="2.5" stroke-linecap="butt"/>
<line x1="0.8" y1="527.5" x2="0.8" y2="692" stroke="#000" stroke-width="1.6" />
<line x1="0.2" y1="692" x2="365.3" y2="692" stroke="#222" stroke-width="1.4" />
<line x1="15" y1="692" x2="15" y2="696" stroke="#222" stroke-width="1" />
<line x1="73.4" y1="692" x2="73.4" y2="696" stroke="#222" stroke-width="1" />
<line x1="131.8" y1="692" x2="131.8" y2="696" stroke="#222" stroke-width="1" />
<line x1="190.2" y1="692" x2="190.2" y2="696" stroke="#222" stroke-width="1" />
<line x1="248.6" y1="692" x2="248.6" y2="696" stroke="#222" stroke-width="1" />
<line x1="307" y1="692" x2="307" y2="696" stroke="#222" stroke-width="1" />
<line x1="365.4" y1="692" x2="365.4" y2="696" stroke="#222" stroke-width="1" />
<line x1="3.3" y1="692" x2="3.3" y2="694" stroke="#222" stroke-width="0.8" />
<line x1="26.7" y1="692" x2="26.7" y2="694" stroke="#222" stroke-width="0.8" />
<line x1="38.4" y1="692" x2="38.4" y2="694" stroke="#222" stroke-width="0.8" />
<line x1="50" y1="692" x2="50" y2="694" stroke="#222" stroke-width="0.8" />
<line x1="61.7" y1="692" x2="61.7" y2="694" stroke="#222" stroke-width="0.8" />
<line x1="85.1" y1="692" x2="85.1" y2="694" stroke="#222" stroke-width="0.8" />
<line x1="96.8" y1="692" x2="96.8" y2="694" stroke="#222" stroke-width="0.8" />
<line x1="108.4" y1="692" x2="108.4" y2="694" stroke="#222" stroke-width="0.8" />
<line x1="120.1" y1="692" x2="120.1" y2="694" stroke="#222" stroke-width="0.8" />
<line x1="143.5" y1="692" x2="143.5" y2="694" stroke="#222" stroke-width="0.8" />
<line x1="155.2" y1="692" x2="155.2" y2="694" stroke="#222" stroke-width="0.8" />
<line x1="166.8" y1="692" x2="166.8" y2="694" stroke="#222" stroke-width="0.8" />
<line x1="178.5" y1="692" x2="178.5" y2="694" stroke="#222" stroke-width="0.8" />
<line x1="201.9" y1="692" x2="201.9" y2="694" stroke="#222" stroke-width="0.8" />
<line x1="213.6" y1="692" x2="213.6" y2="694" stroke="#222" stroke-width="0.8" />
<line x1="225.2" y1="692" x2="225.2" y2="694" stroke="#222" stroke-width="0.8" />
<line x1="236.9" y1="692" x2="236.9" y2="694" stroke="#222" stroke-width="0.8" />
<line x1="260.3" y1="692" x2="260.3" y2="694" stroke="#222" stroke-width="0.8" />
<line x1="272" y1="692" x2="272" y2="694" stroke="#222" stroke-width="0.8" />
<line x1="283.6" y1="692" x2="283.6" y2="694" stroke="#222" stroke-width="0.8" />
<line x1="295.3" y1="692" x2="295.3" y2="694" stroke="#222" stroke-width="0.8" />
<line x1="318.7" y1="692" x2="318.7" y2="694" stroke="#222" stroke-width="0.8" />
<line x1="330.4" y1="692" x2="330.4" y2="694" stroke="#222" stroke-width="0.8" />
<line x1="342" y1="692" x2="342" y2="694" stroke="#222" stroke-width="0.8" />
<line x1="353.7" y1="692" x2="353.7" y2="694" stroke="#222" stroke-width="0.8" />
<text x="15.3" y="712.2" font-size="16.6" font-weight="bold" text-anchor="middle" >600</text>
<text x="73.7" y="712.2" font-size="16.6" font-weight="bold" text-anchor="middle" >800</text>
<text x="132.1" y="712.2" font-size="16.6" font-weight="bold" text-anchor="middle" >1000</text>
<text x="190.5" y="712.2" font-size="16.6" font-weight="bold" text-anchor="middle" >1200</text>
<text x="248.9" y="712.2" font-size="16.6" font-weight="bold" text-anchor="middle" >1400</text>
<text x="307.3" y="712.2" font-size="16.6" font-weight="bold" text-anchor="middle" >1600</text>
<text x="365.7" y="712.2" font-size="16.6" font-weight="bold" text-anchor="middle" >1800</text>
<text transform="matrix(1 0 -0.70 0.87 392.8 682.7)" font-size="18.6" font-weight="bold">30</text>
<text transform="matrix(1 0 -0.70 0.87 421.0 645.7)" font-size="18.6" font-weight="bold">28</text>
<text transform="matrix(1 0 -0.70 0.87 450.3 608.7)" font-size="18.6" font-weight="bold">27</text>
<text transform="matrix(1 0 -0.70 0.87 478.5 572.4)" font-size="18.6" font-weight="bold">24</text>
<line x1="380" y1="673" x2="384.5" y2="673" stroke="#111" stroke-width="1.2" />
<line x1="408.8" y1="637" x2="413.3" y2="637" stroke="#111" stroke-width="1.2" />
<line x1="437.7" y1="600.8" x2="442.2" y2="600.8" stroke="#111" stroke-width="1.2" />
<line x1="467.7" y1="563.3" x2="472.2" y2="563.3" stroke="#111" stroke-width="1.2" />
<text transform="matrix(0.627 -0.779 0.96 0 461.6 662.2)" font-size="18.6" font-weight="bold">Ag NPs size</text>
<text x="98.2" y="740.3" font-size="18.9" font-weight="bold">Raman shift (cm<tspan dy="-6.8" dx="0.6">-1</tspan><tspan dy="6.8" dx="-0.6">)</tspan></text>
<text transform="translate(527.3 558.8) rotate(-90)" font-size="17.5" font-weight="bold" textLength="182.3" lengthAdjust="spacingAndGlyphs">Raman intensity (a.u.)</text>
<text x="32.5" y="414" font-size="22" font-weight="normal" text-anchor="middle" >(c)</text>
</g>
<g id="pd">
<rect x="634.5" y="376.3" width="379.3" height="305.2" fill="none" stroke="#2e2e2e" stroke-width="1.3"/>
<line x1="628.5" y1="681.5" x2="634.5" y2="681.5" stroke="#2e2e2e" stroke-width="1.3" />
<text x="622.8" y="687.4" font-size="19.3" font-weight="bold" text-anchor="end" >0</text>
<line x1="631.5" y1="646.8" x2="634.5" y2="646.8" stroke="#2e2e2e" stroke-width="1.1" />
<line x1="628.5" y1="612.1" x2="634.5" y2="612.1" stroke="#2e2e2e" stroke-width="1.3" />
<text x="622.8" y="618" font-size="19.3" font-weight="bold" text-anchor="end" >5000</text>
<line x1="631.5" y1="577.4" x2="634.5" y2="577.4" stroke="#2e2e2e" stroke-width="1.1" />
<line x1="628.5" y1="542.8" x2="634.5" y2="542.8" stroke="#2e2e2e" stroke-width="1.3" />
<text x="622.8" y="548.7" font-size="19.3" font-weight="bold" text-anchor="end" >10000</text>
<line x1="631.5" y1="508.1" x2="634.5" y2="508.1" stroke="#2e2e2e" stroke-width="1.1" />
<line x1="628.5" y1="473.4" x2="634.5" y2="473.4" stroke="#2e2e2e" stroke-width="1.3" />
<text x="622.8" y="479.3" font-size="19.3" font-weight="bold" text-anchor="end" >15000</text>
<line x1="631.5" y1="438.7" x2="634.5" y2="438.7" stroke="#2e2e2e" stroke-width="1.1" />
<line x1="628.5" y1="404" x2="634.5" y2="404" stroke="#2e2e2e" stroke-width="1.3" />
<text x="622.8" y="409.9" font-size="19.3" font-weight="bold" text-anchor="end" >20000</text>
<line x1="634.5" y1="681.5" x2="634.5" y2="687.5" stroke="#2e2e2e" stroke-width="1.3" />
<text x="634.5" y="708.2" font-size="19.3" font-weight="bold" text-anchor="middle" >23</text>
<line x1="655.6" y1="681.5" x2="655.6" y2="684.5" stroke="#2e2e2e" stroke-width="1.1" />
<line x1="676.6" y1="681.5" x2="676.6" y2="687.5" stroke="#2e2e2e" stroke-width="1.3" />
<text x="676.6" y="708.2" font-size="19.3" font-weight="bold" text-anchor="middle" >24</text>
<line x1="697.7" y1="681.5" x2="697.7" y2="684.5" stroke="#2e2e2e" stroke-width="1.1" />
<line x1="718.8" y1="681.5" x2="718.8" y2="687.5" stroke="#2e2e2e" stroke-width="1.3" />
<text x="718.8" y="708.2" font-size="19.3" font-weight="bold" text-anchor="middle" >25</text>
<line x1="739.9" y1="681.5" x2="739.9" y2="684.5" stroke="#2e2e2e" stroke-width="1.1" />
<line x1="760.9" y1="681.5" x2="760.9" y2="687.5" stroke="#2e2e2e" stroke-width="1.3" />
<text x="760.9" y="708.2" font-size="19.3" font-weight="bold" text-anchor="middle" >26</text>
<line x1="782" y1="681.5" x2="782" y2="684.5" stroke="#2e2e2e" stroke-width="1.1" />
<line x1="803.1" y1="681.5" x2="803.1" y2="687.5" stroke="#2e2e2e" stroke-width="1.3" />
<text x="803.1" y="708.2" font-size="19.3" font-weight="bold" text-anchor="middle" >27</text>
<line x1="824.1" y1="681.5" x2="824.1" y2="684.5" stroke="#2e2e2e" stroke-width="1.1" />
<line x1="845.2" y1="681.5" x2="845.2" y2="687.5" stroke="#2e2e2e" stroke-width="1.3" />
<text x="845.2" y="708.2" font-size="19.3" font-weight="bold" text-anchor="middle" >28</text>
<line x1="866.3" y1="681.5" x2="866.3" y2="684.5" stroke="#2e2e2e" stroke-width="1.1" />
<line x1="887.3" y1="681.5" x2="887.3" y2="687.5" stroke="#2e2e2e" stroke-width="1.3" />
<text x="887.3" y="708.2" font-size="19.3" font-weight="bold" text-anchor="middle" >29</text>
<line x1="908.4" y1="681.5" x2="908.4" y2="684.5" stroke="#2e2e2e" stroke-width="1.1" />
<line x1="929.5" y1="681.5" x2="929.5" y2="687.5" stroke="#2e2e2e" stroke-width="1.3" />
<text x="929.5" y="708.2" font-size="19.3" font-weight="bold" text-anchor="middle" >30</text>
<line x1="950.6" y1="681.5" x2="950.6" y2="684.5" stroke="#2e2e2e" stroke-width="1.1" />
<line x1="971.6" y1="681.5" x2="971.6" y2="687.5" stroke="#2e2e2e" stroke-width="1.3" />
<text x="971.6" y="708.2" font-size="19.3" font-weight="bold" text-anchor="middle" >31</text>
<line x1="992.7" y1="681.5" x2="992.7" y2="684.5" stroke="#2e2e2e" stroke-width="1.1" />
<line x1="1013.8" y1="681.5" x2="1013.8" y2="687.5" stroke="#2e2e2e" stroke-width="1.3" />
<text x="1013.8" y="708.2" font-size="19.3" font-weight="bold" text-anchor="middle" >32</text>
<line x1="681.2" y1="534.9" x2="681.2" y2="546.7" stroke="#000" stroke-width="2.0" />
<circle cx="681.2" cy="540.8" r="5.1" fill="url(#ball)"/>
<line x1="681.2" y1="534.9" x2="681.2" y2="538.8" stroke="#000" stroke-width="2.0" />
<line x1="681.2" y1="542.9" x2="681.2" y2="546.7" stroke="#000" stroke-width="2.0" />
<line x1="677.4" y1="538.8" x2="685" y2="538.8" stroke="#000" stroke-width="2.1" />
<line x1="677.4" y1="542.9" x2="685" y2="542.9" stroke="#000" stroke-width="2.1" />
<line x1="806" y1="505.6" x2="806" y2="522" stroke="#000" stroke-width="2.0" />
<line x1="802.1" y1="505.6" x2="809.9" y2="505.6" stroke="#000" stroke-width="1.9" />
<line x1="802.1" y1="522" x2="809.9" y2="522" stroke="#000" stroke-width="1.9" />
<circle cx="806" cy="513.8" r="5.1" fill="url(#ball)"/>
<line x1="848.2" y1="458" x2="848.2" y2="484.1" stroke="#000" stroke-width="2.0" />
<line x1="844.3" y1="458" x2="852.1" y2="458" stroke="#000" stroke-width="1.9" />
<line x1="844.3" y1="484.1" x2="852.1" y2="484.1" stroke="#000" stroke-width="1.9" />
<circle cx="848.2" cy="470.9" r="5.1" fill="url(#ball)"/>
<line x1="966.8" y1="423.8" x2="966.8" y2="457.2" stroke="#000" stroke-width="2.0" />
<line x1="962.9" y1="423.8" x2="970.7" y2="423.8" stroke="#000" stroke-width="1.9" />
<line x1="962.9" y1="457.2" x2="970.7" y2="457.2" stroke="#000" stroke-width="1.9" />
<circle cx="966.8" cy="440.6" r="5.1" fill="url(#ball)"/>
<text x="824.3" y="742.8" font-size="20.2" font-weight="bold" text-anchor="middle" textLength="165.2" lengthAdjust="spacingAndGlyphs" >Ag NPs size (nm)</text>
<text transform="translate(563.8 634) rotate(-90)" font-size="20.2" font-weight="bold" textLength="209" lengthAdjust="spacingAndGlyphs">Raman intensity (a.u.)</text>
<text x="673.2" y="414.2" font-size="22" font-weight="normal" text-anchor="middle" >(d)</text>
</g>
</svg>
</body></html>
